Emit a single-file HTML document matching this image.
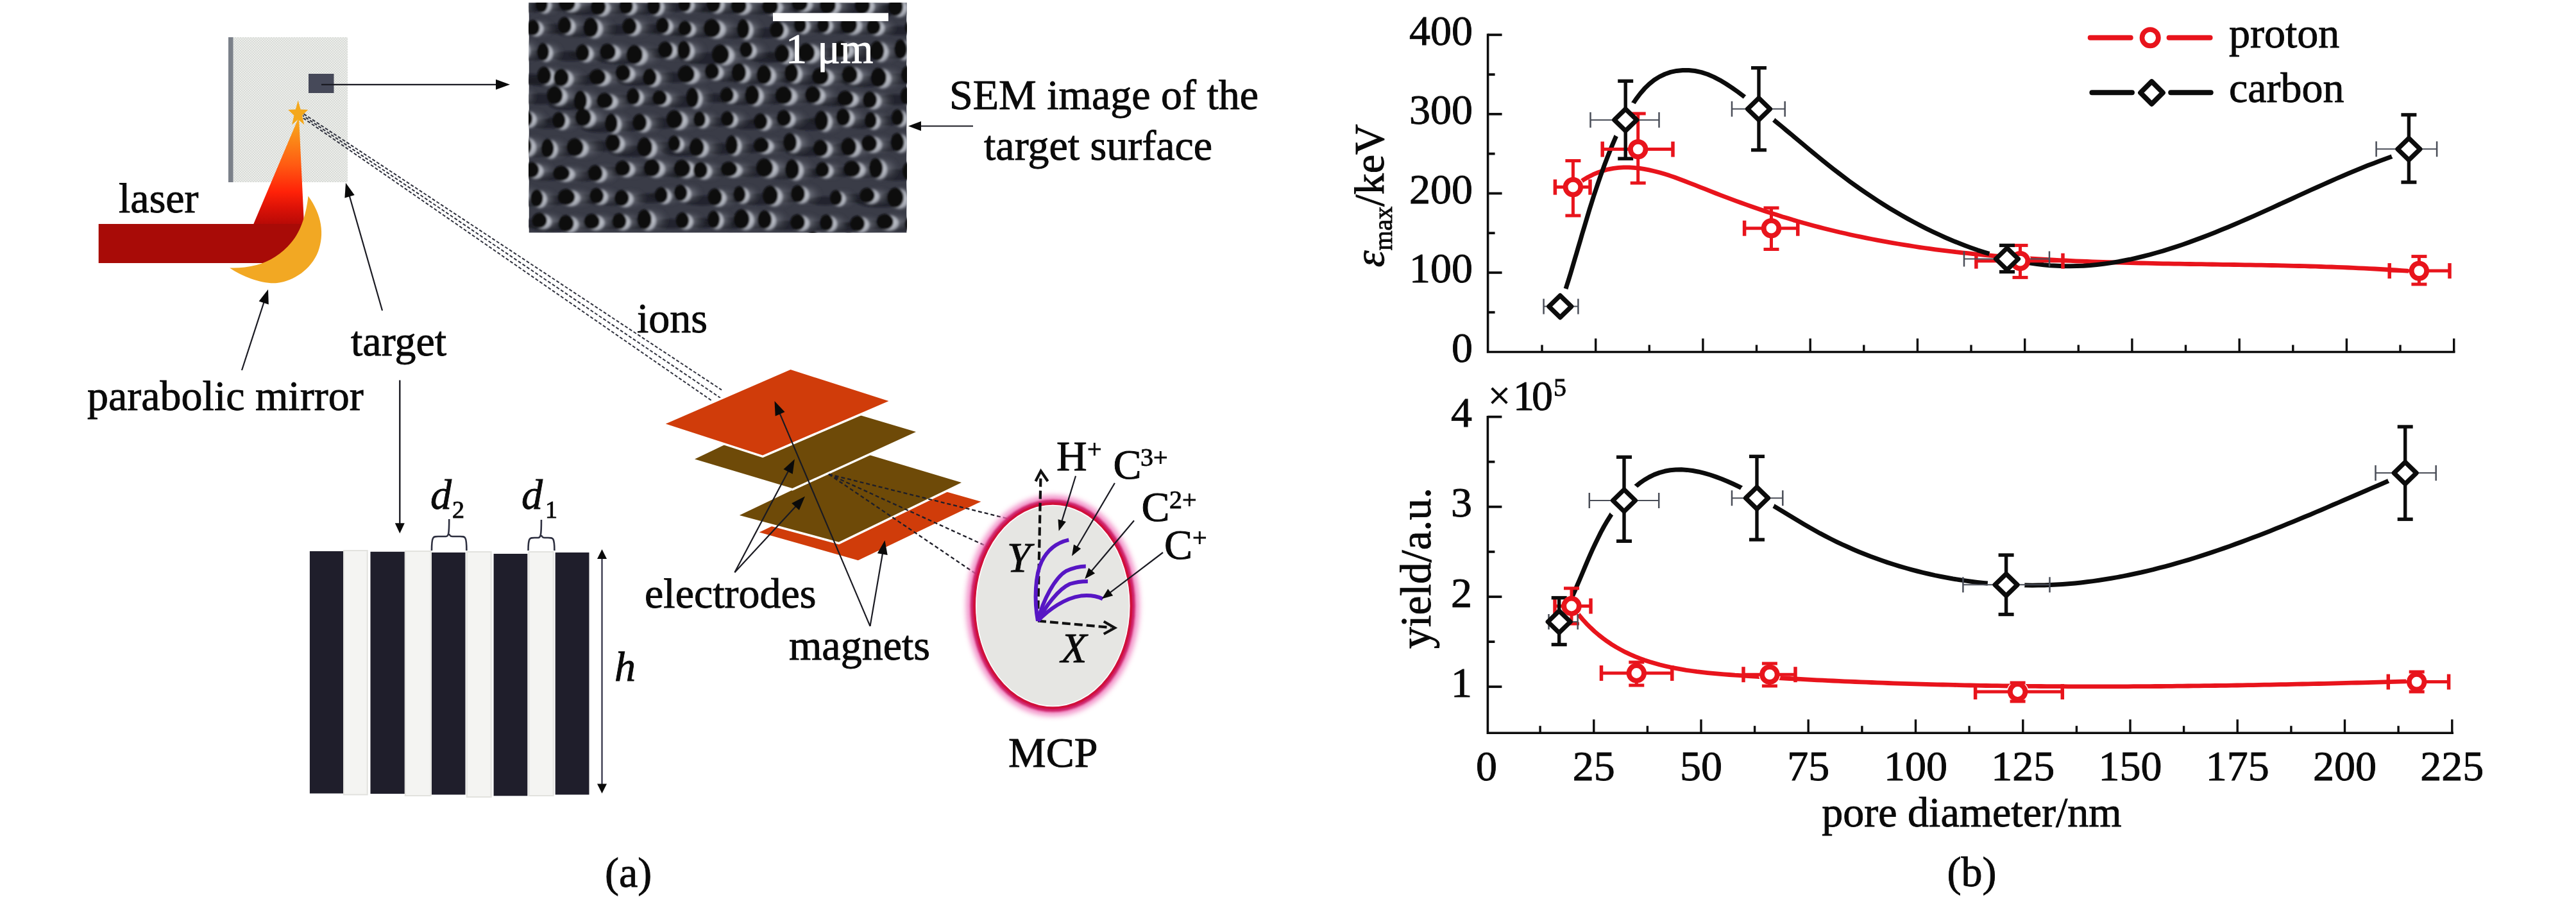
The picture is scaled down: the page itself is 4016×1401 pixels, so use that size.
<!DOCTYPE html>
<html><head><meta charset="utf-8"><style>
html,body{margin:0;padding:0;background:#fff;width:4016px;height:1401px;overflow:hidden}
svg{display:block}
text{font-family:"Liberation Serif",serif}
</style></head><body>
<svg width="4016" height="1401" viewBox="0 0 4016 1401">
<rect width="4016" height="1401" fill="#fff"/>
<defs>
<pattern id="chk" width="4" height="4" patternUnits="userSpaceOnUse"><rect width="4" height="4" fill="#ecedea"/><rect width="2" height="2" fill="#d9dcd8"/><rect x="2" y="2" width="2" height="2" fill="#d9dcd8"/></pattern>
<linearGradient id="cone" x1="0" y1="1" x2="0" y2="0">
<stop offset="0" stop-color="#b80a06"/><stop offset="0.15" stop-color="#dc1207"/><stop offset="0.3" stop-color="#ff2208"/><stop offset="0.55" stop-color="#ff5a12"/><stop offset="0.8" stop-color="#fb8a18"/><stop offset="1" stop-color="#f5b020"/></linearGradient>
<radialGradient id="hl" cx="0.5" cy="0.5" r="0.5"><stop offset="0" stop-color="#e8ebf0" stop-opacity="1"/><stop offset="0.72" stop-color="#b8bcc6" stop-opacity="0.75"/><stop offset="1" stop-color="#3e404b" stop-opacity="0"/></radialGradient>
<radialGradient id="hl2" cx="0.5" cy="0.5" r="0.5"><stop offset="0" stop-color="#9ea2ac" stop-opacity="0.7"/><stop offset="1" stop-color="#3e404b" stop-opacity="0"/></radialGradient>
<filter id="blur6" x="-20%" y="-20%" width="140%" height="140%"><feGaussianBlur stdDeviation="4.5"/></filter>
<filter id="blur2" x="-20%" y="-20%" width="140%" height="140%"><feGaussianBlur stdDeviation="1.6"/></filter>
<clipPath id="semclip"><rect x="824.5" y="4.2" width="589" height="358.5"/></clipPath>
</defs>
<rect x="356" y="58" width="186" height="226" fill="url(#chk)"/>
<rect x="356" y="58" width="7.5" height="226" fill="#7b8089"/>
<rect x="481" y="115" width="39.5" height="30" fill="#464959"/>
<line x1="501" y1="131.8" x2="775.0" y2="131.8" stroke="#1a1a22" stroke-width="2.2"/>
<polygon points="795.0,131.8 773.0,139.8 773.0,123.8" fill="#0a0a0a"/>
<g clip-path="url(#semclip)">
<rect x="824.5" y="4.2" width="589" height="358.5" fill="#3a3c47"/>
<g filter="url(#blur2)">
<ellipse cx="785.3" cy="13.0" rx="29.4" ry="8.2" fill="#16171e" opacity="0.6"/>
<ellipse cx="827.3" cy="11.4" rx="28.9" ry="7.9" fill="#16171e" opacity="0.6"/>
<ellipse cx="861.1" cy="10.0" rx="38.4" ry="7.2" fill="#16171e" opacity="0.6"/>
<ellipse cx="911.5" cy="15.7" rx="35.4" ry="7.9" fill="#16171e" opacity="0.6"/>
<ellipse cx="957.1" cy="14.4" rx="32.0" ry="7.2" fill="#16171e" opacity="0.6"/>
<ellipse cx="1001.2" cy="14.7" rx="30.7" ry="8.3" fill="#16171e" opacity="0.6"/>
<ellipse cx="1049.9" cy="11.2" rx="29.3" ry="7.0" fill="#16171e" opacity="0.6"/>
<ellipse cx="1093.3" cy="10.8" rx="32.3" ry="8.3" fill="#16171e" opacity="0.6"/>
<ellipse cx="1129.5" cy="13.9" rx="36.9" ry="7.5" fill="#16171e" opacity="0.6"/>
<ellipse cx="1178.5" cy="14.8" rx="37.3" ry="7.6" fill="#16171e" opacity="0.6"/>
<ellipse cx="1224.4" cy="10.0" rx="37.6" ry="7.3" fill="#16171e" opacity="0.6"/>
<ellipse cx="1268.0" cy="13.2" rx="37.7" ry="8.3" fill="#16171e" opacity="0.6"/>
<ellipse cx="1323.4" cy="13.5" rx="35.6" ry="8.3" fill="#16171e" opacity="0.6"/>
<ellipse cx="1376.0" cy="16.1" rx="34.2" ry="8.5" fill="#16171e" opacity="0.6"/>
<ellipse cx="1409.2" cy="13.4" rx="40.4" ry="8.9" fill="#16171e" opacity="0.6"/>
<ellipse cx="813.1" cy="47.7" rx="30.5" ry="7.2" fill="#16171e" opacity="0.6"/>
<ellipse cx="861.7" cy="44.8" rx="31.5" ry="7.8" fill="#16171e" opacity="0.6"/>
<ellipse cx="900.1" cy="48.8" rx="35.1" ry="9.0" fill="#16171e" opacity="0.6"/>
<ellipse cx="961.5" cy="46.3" rx="33.5" ry="7.8" fill="#16171e" opacity="0.6"/>
<ellipse cx="1015.0" cy="44.8" rx="30.6" ry="7.5" fill="#16171e" opacity="0.6"/>
<ellipse cx="1049.0" cy="48.8" rx="31.7" ry="6.9" fill="#16171e" opacity="0.6"/>
<ellipse cx="1086.3" cy="49.7" rx="39.9" ry="8.6" fill="#16171e" opacity="0.6"/>
<ellipse cx="1141.4" cy="51.1" rx="29.1" ry="9.1" fill="#16171e" opacity="0.6"/>
<ellipse cx="1191.5" cy="51.5" rx="33.2" ry="7.9" fill="#16171e" opacity="0.6"/>
<ellipse cx="1229.9" cy="43.9" rx="29.3" ry="7.4" fill="#16171e" opacity="0.6"/>
<ellipse cx="1266.6" cy="43.7" rx="28.5" ry="7.3" fill="#16171e" opacity="0.6"/>
<ellipse cx="1300.0" cy="44.2" rx="39.0" ry="8.4" fill="#16171e" opacity="0.6"/>
<ellipse cx="1342.2" cy="46.6" rx="32.9" ry="7.2" fill="#16171e" opacity="0.6"/>
<ellipse cx="1401.6" cy="47.7" rx="34.3" ry="7.1" fill="#16171e" opacity="0.6"/>
<ellipse cx="793.7" cy="83.1" rx="28.8" ry="9.2" fill="#16171e" opacity="0.6"/>
<ellipse cx="829.5" cy="86.2" rx="28.8" ry="8.2" fill="#16171e" opacity="0.6"/>
<ellipse cx="889.6" cy="87.5" rx="31.6" ry="7.8" fill="#16171e" opacity="0.6"/>
<ellipse cx="924.9" cy="85.8" rx="37.8" ry="7.7" fill="#16171e" opacity="0.6"/>
<ellipse cx="966.0" cy="91.1" rx="38.7" ry="8.8" fill="#16171e" opacity="0.6"/>
<ellipse cx="1016.9" cy="82.8" rx="34.7" ry="7.8" fill="#16171e" opacity="0.6"/>
<ellipse cx="1047.2" cy="83.9" rx="31.6" ry="8.6" fill="#16171e" opacity="0.6"/>
<ellipse cx="1099.2" cy="90.9" rx="40.4" ry="9.2" fill="#16171e" opacity="0.6"/>
<ellipse cx="1144.8" cy="82.6" rx="30.9" ry="7.4" fill="#16171e" opacity="0.6"/>
<ellipse cx="1199.1" cy="89.4" rx="34.3" ry="8.5" fill="#16171e" opacity="0.6"/>
<ellipse cx="1233.7" cy="87.8" rx="39.4" ry="8.8" fill="#16171e" opacity="0.6"/>
<ellipse cx="1288.6" cy="82.3" rx="38.0" ry="7.7" fill="#16171e" opacity="0.6"/>
<ellipse cx="1347.5" cy="85.4" rx="33.3" ry="9.2" fill="#16171e" opacity="0.6"/>
<ellipse cx="1386.3" cy="82.7" rx="30.3" ry="9.1" fill="#16171e" opacity="0.6"/>
<ellipse cx="828.9" cy="123.3" rx="32.7" ry="8.2" fill="#16171e" opacity="0.6"/>
<ellipse cx="853.1" cy="126.4" rx="36.3" ry="8.2" fill="#16171e" opacity="0.6"/>
<ellipse cx="908.8" cy="124.9" rx="38.4" ry="7.4" fill="#16171e" opacity="0.6"/>
<ellipse cx="950.0" cy="118.7" rx="35.5" ry="7.5" fill="#16171e" opacity="0.6"/>
<ellipse cx="993.3" cy="125.7" rx="32.7" ry="8.0" fill="#16171e" opacity="0.6"/>
<ellipse cx="1046.3" cy="120.9" rx="39.5" ry="8.1" fill="#16171e" opacity="0.6"/>
<ellipse cx="1089.8" cy="116.3" rx="33.8" ry="7.3" fill="#16171e" opacity="0.6"/>
<ellipse cx="1131.5" cy="118.7" rx="34.2" ry="8.6" fill="#16171e" opacity="0.6"/>
<ellipse cx="1170.1" cy="122.3" rx="35.2" ry="8.8" fill="#16171e" opacity="0.6"/>
<ellipse cx="1214.8" cy="119.6" rx="31.8" ry="8.8" fill="#16171e" opacity="0.6"/>
<ellipse cx="1255.4" cy="124.2" rx="39.4" ry="8.0" fill="#16171e" opacity="0.6"/>
<ellipse cx="1302.7" cy="121.7" rx="36.8" ry="8.0" fill="#16171e" opacity="0.6"/>
<ellipse cx="1347.8" cy="126.7" rx="36.9" ry="9.0" fill="#16171e" opacity="0.6"/>
<ellipse cx="1394.2" cy="122.8" rx="39.8" ry="8.9" fill="#16171e" opacity="0.6"/>
<ellipse cx="787.0" cy="155.1" rx="29.4" ry="8.5" fill="#16171e" opacity="0.6"/>
<ellipse cx="842.9" cy="154.2" rx="37.1" ry="8.5" fill="#16171e" opacity="0.6"/>
<ellipse cx="886.3" cy="162.8" rx="31.1" ry="9.2" fill="#16171e" opacity="0.6"/>
<ellipse cx="919.9" cy="161.7" rx="38.5" ry="7.3" fill="#16171e" opacity="0.6"/>
<ellipse cx="968.9" cy="155.5" rx="30.8" ry="7.7" fill="#16171e" opacity="0.6"/>
<ellipse cx="1008.3" cy="157.1" rx="33.8" ry="6.9" fill="#16171e" opacity="0.6"/>
<ellipse cx="1062.1" cy="158.3" rx="29.3" ry="9.3" fill="#16171e" opacity="0.6"/>
<ellipse cx="1114.6" cy="152.7" rx="31.7" ry="7.0" fill="#16171e" opacity="0.6"/>
<ellipse cx="1152.5" cy="154.3" rx="33.6" ry="9.1" fill="#16171e" opacity="0.6"/>
<ellipse cx="1198.3" cy="154.0" rx="39.5" ry="8.3" fill="#16171e" opacity="0.6"/>
<ellipse cx="1245.4" cy="152.8" rx="36.8" ry="7.9" fill="#16171e" opacity="0.6"/>
<ellipse cx="1295.4" cy="158.1" rx="38.1" ry="7.1" fill="#16171e" opacity="0.6"/>
<ellipse cx="1335.7" cy="160.7" rx="33.9" ry="7.7" fill="#16171e" opacity="0.6"/>
<ellipse cx="1395.9" cy="155.1" rx="30.1" ry="8.2" fill="#16171e" opacity="0.6"/>
<ellipse cx="800.2" cy="189.7" rx="32.2" ry="7.6" fill="#16171e" opacity="0.6"/>
<ellipse cx="853.2" cy="192.8" rx="30.6" ry="7.7" fill="#16171e" opacity="0.6"/>
<ellipse cx="886.9" cy="188.3" rx="37.3" ry="8.2" fill="#16171e" opacity="0.6"/>
<ellipse cx="935.2" cy="197.9" rx="29.8" ry="8.9" fill="#16171e" opacity="0.6"/>
<ellipse cx="977.5" cy="196.4" rx="33.2" ry="8.1" fill="#16171e" opacity="0.6"/>
<ellipse cx="1028.8" cy="191.8" rx="38.5" ry="8.6" fill="#16171e" opacity="0.6"/>
<ellipse cx="1073.2" cy="190.9" rx="29.2" ry="7.2" fill="#16171e" opacity="0.6"/>
<ellipse cx="1116.1" cy="189.9" rx="30.5" ry="7.1" fill="#16171e" opacity="0.6"/>
<ellipse cx="1166.8" cy="194.3" rx="31.9" ry="7.5" fill="#16171e" opacity="0.6"/>
<ellipse cx="1202.0" cy="189.2" rx="33.8" ry="7.5" fill="#16171e" opacity="0.6"/>
<ellipse cx="1262.1" cy="194.2" rx="31.4" ry="9.2" fill="#16171e" opacity="0.6"/>
<ellipse cx="1294.8" cy="188.0" rx="33.1" ry="8.0" fill="#16171e" opacity="0.6"/>
<ellipse cx="1340.4" cy="192.7" rx="28.6" ry="7.5" fill="#16171e" opacity="0.6"/>
<ellipse cx="1382.3" cy="188.1" rx="28.8" ry="7.6" fill="#16171e" opacity="0.6"/>
<ellipse cx="794.0" cy="233.7" rx="37.1" ry="9.0" fill="#16171e" opacity="0.6"/>
<ellipse cx="835.5" cy="236.8" rx="30.3" ry="8.6" fill="#16171e" opacity="0.6"/>
<ellipse cx="873.2" cy="235.1" rx="39.2" ry="8.4" fill="#16171e" opacity="0.6"/>
<ellipse cx="934.9" cy="227.9" rx="34.8" ry="8.1" fill="#16171e" opacity="0.6"/>
<ellipse cx="984.1" cy="235.4" rx="35.5" ry="9.0" fill="#16171e" opacity="0.6"/>
<ellipse cx="1034.1" cy="228.3" rx="28.9" ry="7.2" fill="#16171e" opacity="0.6"/>
<ellipse cx="1065.1" cy="235.1" rx="35.2" ry="8.4" fill="#16171e" opacity="0.6"/>
<ellipse cx="1123.9" cy="231.9" rx="28.5" ry="8.8" fill="#16171e" opacity="0.6"/>
<ellipse cx="1165.2" cy="231.2" rx="36.4" ry="7.1" fill="#16171e" opacity="0.6"/>
<ellipse cx="1212.8" cy="227.7" rx="31.7" ry="8.7" fill="#16171e" opacity="0.6"/>
<ellipse cx="1258.9" cy="236.1" rx="34.4" ry="7.8" fill="#16171e" opacity="0.6"/>
<ellipse cx="1301.9" cy="234.4" rx="35.9" ry="8.4" fill="#16171e" opacity="0.6"/>
<ellipse cx="1332.6" cy="228.8" rx="37.4" ry="7.6" fill="#16171e" opacity="0.6"/>
<ellipse cx="1380.0" cy="227.4" rx="31.7" ry="8.5" fill="#16171e" opacity="0.6"/>
<ellipse cx="808.8" cy="269.6" rx="34.1" ry="7.2" fill="#16171e" opacity="0.6"/>
<ellipse cx="851.4" cy="274.6" rx="39.7" ry="6.9" fill="#16171e" opacity="0.6"/>
<ellipse cx="908.1" cy="274.9" rx="33.9" ry="7.5" fill="#16171e" opacity="0.6"/>
<ellipse cx="949.8" cy="267.1" rx="35.5" ry="7.2" fill="#16171e" opacity="0.6"/>
<ellipse cx="993.5" cy="266.9" rx="38.3" ry="8.1" fill="#16171e" opacity="0.6"/>
<ellipse cx="1039.9" cy="267.9" rx="39.3" ry="8.1" fill="#16171e" opacity="0.6"/>
<ellipse cx="1071.7" cy="270.2" rx="33.9" ry="7.6" fill="#16171e" opacity="0.6"/>
<ellipse cx="1113.6" cy="268.0" rx="38.6" ry="6.9" fill="#16171e" opacity="0.6"/>
<ellipse cx="1168.4" cy="267.1" rx="39.6" ry="8.6" fill="#16171e" opacity="0.6"/>
<ellipse cx="1215.2" cy="270.1" rx="33.2" ry="9.3" fill="#16171e" opacity="0.6"/>
<ellipse cx="1263.3" cy="269.2" rx="31.8" ry="7.0" fill="#16171e" opacity="0.6"/>
<ellipse cx="1304.6" cy="268.1" rx="39.7" ry="7.5" fill="#16171e" opacity="0.6"/>
<ellipse cx="1345.8" cy="268.2" rx="33.0" ry="9.2" fill="#16171e" opacity="0.6"/>
<ellipse cx="1396.5" cy="272.6" rx="39.5" ry="9.2" fill="#16171e" opacity="0.6"/>
<ellipse cx="781.9" cy="309.7" rx="37.5" ry="8.4" fill="#16171e" opacity="0.6"/>
<ellipse cx="818.9" cy="314.1" rx="30.0" ry="8.0" fill="#16171e" opacity="0.6"/>
<ellipse cx="859.0" cy="311.9" rx="40.2" ry="7.5" fill="#16171e" opacity="0.6"/>
<ellipse cx="910.5" cy="310.0" rx="33.2" ry="7.3" fill="#16171e" opacity="0.6"/>
<ellipse cx="948.7" cy="313.5" rx="34.5" ry="7.4" fill="#16171e" opacity="0.6"/>
<ellipse cx="1013.0" cy="308.9" rx="30.2" ry="7.4" fill="#16171e" opacity="0.6"/>
<ellipse cx="1042.4" cy="305.4" rx="31.4" ry="7.5" fill="#16171e" opacity="0.6"/>
<ellipse cx="1094.7" cy="312.3" rx="33.5" ry="7.9" fill="#16171e" opacity="0.6"/>
<ellipse cx="1135.5" cy="307.9" rx="29.2" ry="7.6" fill="#16171e" opacity="0.6"/>
<ellipse cx="1179.4" cy="310.5" rx="36.1" ry="9.0" fill="#16171e" opacity="0.6"/>
<ellipse cx="1224.1" cy="307.3" rx="33.3" ry="8.0" fill="#16171e" opacity="0.6"/>
<ellipse cx="1286.3" cy="312.9" rx="28.8" ry="7.0" fill="#16171e" opacity="0.6"/>
<ellipse cx="1330.8" cy="308.9" rx="35.5" ry="6.9" fill="#16171e" opacity="0.6"/>
<ellipse cx="1372.8" cy="313.9" rx="38.8" ry="9.2" fill="#16171e" opacity="0.6"/>
<ellipse cx="1405.2" cy="306.8" rx="34.8" ry="8.5" fill="#16171e" opacity="0.6"/>
<ellipse cx="820.2" cy="348.1" rx="35.1" ry="7.0" fill="#16171e" opacity="0.6"/>
<ellipse cx="861.0" cy="353.1" rx="36.2" ry="7.6" fill="#16171e" opacity="0.6"/>
<ellipse cx="900.7" cy="350.0" rx="36.9" ry="7.2" fill="#16171e" opacity="0.6"/>
<ellipse cx="945.7" cy="349.6" rx="33.2" ry="7.4" fill="#16171e" opacity="0.6"/>
<ellipse cx="984.4" cy="348.0" rx="34.0" ry="9.2" fill="#16171e" opacity="0.6"/>
<ellipse cx="1045.3" cy="348.6" rx="31.3" ry="7.5" fill="#16171e" opacity="0.6"/>
<ellipse cx="1095.8" cy="347.3" rx="28.8" ry="8.1" fill="#16171e" opacity="0.6"/>
<ellipse cx="1134.6" cy="347.5" rx="36.5" ry="9.1" fill="#16171e" opacity="0.6"/>
<ellipse cx="1172.1" cy="347.9" rx="33.5" ry="8.5" fill="#16171e" opacity="0.6"/>
<ellipse cx="1223.0" cy="351.2" rx="34.6" ry="7.4" fill="#16171e" opacity="0.6"/>
<ellipse cx="1269.7" cy="352.0" rx="31.3" ry="7.4" fill="#16171e" opacity="0.6"/>
<ellipse cx="1316.2" cy="353.3" rx="34.4" ry="7.3" fill="#16171e" opacity="0.6"/>
<ellipse cx="1355.8" cy="350.3" rx="39.9" ry="7.3" fill="#16171e" opacity="0.6"/>
<ellipse cx="1402.3" cy="353.3" rx="30.2" ry="7.0" fill="#16171e" opacity="0.6"/>
<ellipse cx="802.6" cy="389.6" rx="40.5" ry="9.1" fill="#16171e" opacity="0.6"/>
<ellipse cx="837.3" cy="390.2" rx="37.5" ry="7.0" fill="#16171e" opacity="0.6"/>
<ellipse cx="890.3" cy="384.8" rx="32.5" ry="7.3" fill="#16171e" opacity="0.6"/>
<ellipse cx="922.4" cy="384.5" rx="40.0" ry="7.2" fill="#16171e" opacity="0.6"/>
<ellipse cx="973.9" cy="385.7" rx="38.4" ry="8.9" fill="#16171e" opacity="0.6"/>
<ellipse cx="1019.0" cy="387.0" rx="33.0" ry="9.1" fill="#16171e" opacity="0.6"/>
<ellipse cx="1066.5" cy="390.4" rx="28.9" ry="7.9" fill="#16171e" opacity="0.6"/>
<ellipse cx="1121.5" cy="381.3" rx="28.9" ry="7.1" fill="#16171e" opacity="0.6"/>
<ellipse cx="1159.0" cy="388.8" rx="39.3" ry="7.7" fill="#16171e" opacity="0.6"/>
<ellipse cx="1215.2" cy="388.1" rx="31.6" ry="8.6" fill="#16171e" opacity="0.6"/>
<ellipse cx="1244.6" cy="382.3" rx="37.6" ry="9.1" fill="#16171e" opacity="0.6"/>
<ellipse cx="1304.6" cy="381.8" rx="31.3" ry="8.0" fill="#16171e" opacity="0.6"/>
<ellipse cx="1356.0" cy="385.4" rx="31.5" ry="7.9" fill="#16171e" opacity="0.6"/>
<ellipse cx="1396.5" cy="383.8" rx="38.1" ry="8.7" fill="#16171e" opacity="0.6"/>
<ellipse cx="815.6" cy="8.5" rx="21.5" ry="19.1" fill="url(#hl2)"/>
<ellipse cx="857.2" cy="7.1" rx="21.2" ry="18.5" fill="url(#hl2)"/>
<ellipse cx="900.8" cy="6.2" rx="28.2" ry="16.8" fill="url(#hl2)"/>
<ellipse cx="948.1" cy="11.5" rx="26.0" ry="18.3" fill="url(#hl2)"/>
<ellipse cx="990.2" cy="10.6" rx="23.4" ry="16.9" fill="url(#hl2)"/>
<ellipse cx="1032.9" cy="10.2" rx="22.5" ry="19.4" fill="url(#hl2)"/>
<ellipse cx="1080.1" cy="7.5" rx="21.5" ry="16.4" fill="url(#hl2)"/>
<ellipse cx="1126.6" cy="6.3" rx="23.7" ry="19.4" fill="url(#hl2)"/>
<ellipse cx="1167.7" cy="9.9" rx="27.1" ry="17.5" fill="url(#hl2)"/>
<ellipse cx="1217.0" cy="10.8" rx="27.3" ry="17.7" fill="url(#hl2)"/>
<ellipse cx="1263.2" cy="6.2" rx="27.6" ry="17.0" fill="url(#hl2)"/>
<ellipse cx="1307.0" cy="8.7" rx="27.6" ry="19.3" fill="url(#hl2)"/>
<ellipse cx="1360.2" cy="9.0" rx="26.1" ry="19.3" fill="url(#hl2)"/>
<ellipse cx="1411.3" cy="11.4" rx="25.1" ry="19.8" fill="url(#hl2)"/>
<ellipse cx="1450.9" cy="8.5" rx="29.6" ry="20.7" fill="url(#hl2)"/>
<ellipse cx="844.6" cy="43.9" rx="22.4" ry="16.8" fill="url(#hl2)"/>
<ellipse cx="894.3" cy="40.6" rx="23.1" ry="18.3" fill="url(#hl2)"/>
<ellipse cx="936.4" cy="43.8" rx="25.7" ry="21.0" fill="url(#hl2)"/>
<ellipse cx="996.1" cy="42.1" rx="24.6" ry="18.1" fill="url(#hl2)"/>
<ellipse cx="1046.6" cy="40.8" rx="22.5" ry="17.4" fill="url(#hl2)"/>
<ellipse cx="1081.7" cy="45.2" rx="23.2" ry="16.1" fill="url(#hl2)"/>
<ellipse cx="1127.5" cy="45.0" rx="29.3" ry="20.0" fill="url(#hl2)"/>
<ellipse cx="1171.5" cy="46.1" rx="21.4" ry="21.1" fill="url(#hl2)"/>
<ellipse cx="1225.8" cy="47.3" rx="24.4" ry="18.3" fill="url(#hl2)"/>
<ellipse cx="1260.2" cy="39.9" rx="21.5" ry="17.3" fill="url(#hl2)"/>
<ellipse cx="1296.0" cy="39.8" rx="20.9" ry="16.9" fill="url(#hl2)"/>
<ellipse cx="1340.3" cy="39.6" rx="28.6" ry="19.5" fill="url(#hl2)"/>
<ellipse cx="1376.2" cy="42.8" rx="24.1" ry="16.8" fill="url(#hl2)"/>
<ellipse cx="1437.1" cy="44.0" rx="25.2" ry="16.6" fill="url(#hl2)"/>
<ellipse cx="823.4" cy="78.0" rx="21.1" ry="21.4" fill="url(#hl2)"/>
<ellipse cx="859.3" cy="81.8" rx="21.1" ry="19.1" fill="url(#hl2)"/>
<ellipse cx="922.2" cy="83.3" rx="23.2" ry="18.2" fill="url(#hl2)"/>
<ellipse cx="964.0" cy="81.7" rx="27.8" ry="17.9" fill="url(#hl2)"/>
<ellipse cx="1006.1" cy="86.2" rx="28.4" ry="20.6" fill="url(#hl2)"/>
<ellipse cx="1052.8" cy="78.6" rx="25.5" ry="18.1" fill="url(#hl2)"/>
<ellipse cx="1079.9" cy="79.2" rx="23.2" ry="20.0" fill="url(#hl2)"/>
<ellipse cx="1140.9" cy="85.7" rx="29.6" ry="21.4" fill="url(#hl2)"/>
<ellipse cx="1176.7" cy="78.6" rx="22.6" ry="17.2" fill="url(#hl2)"/>
<ellipse cx="1234.5" cy="84.8" rx="25.1" ry="19.8" fill="url(#hl2)"/>
<ellipse cx="1274.5" cy="83.0" rx="28.9" ry="20.5" fill="url(#hl2)"/>
<ellipse cx="1327.8" cy="78.2" rx="27.8" ry="18.0" fill="url(#hl2)"/>
<ellipse cx="1382.0" cy="80.3" rx="24.4" ry="21.4" fill="url(#hl2)"/>
<ellipse cx="1417.6" cy="77.6" rx="22.2" ry="21.2" fill="url(#hl2)"/>
<ellipse cx="862.7" cy="118.8" rx="24.0" ry="19.2" fill="url(#hl2)"/>
<ellipse cx="890.6" cy="122.0" rx="26.6" ry="19.0" fill="url(#hl2)"/>
<ellipse cx="948.5" cy="121.0" rx="28.2" ry="17.3" fill="url(#hl2)"/>
<ellipse cx="986.8" cy="114.7" rx="26.1" ry="17.6" fill="url(#hl2)"/>
<ellipse cx="1027.2" cy="121.3" rx="24.0" ry="18.7" fill="url(#hl2)"/>
<ellipse cx="1087.1" cy="116.5" rx="29.0" ry="18.9" fill="url(#hl2)"/>
<ellipse cx="1124.7" cy="112.4" rx="24.8" ry="17.1" fill="url(#hl2)"/>
<ellipse cx="1166.8" cy="114.0" rx="25.1" ry="20.2" fill="url(#hl2)"/>
<ellipse cx="1206.4" cy="117.4" rx="25.8" ry="20.5" fill="url(#hl2)"/>
<ellipse cx="1247.7" cy="114.7" rx="23.3" ry="20.4" fill="url(#hl2)"/>
<ellipse cx="1296.1" cy="119.8" rx="28.9" ry="18.6" fill="url(#hl2)"/>
<ellipse cx="1340.8" cy="117.4" rx="27.0" ry="18.6" fill="url(#hl2)"/>
<ellipse cx="1385.9" cy="121.7" rx="27.1" ry="21.0" fill="url(#hl2)"/>
<ellipse cx="1435.3" cy="117.8" rx="29.2" ry="20.8" fill="url(#hl2)"/>
<ellipse cx="817.4" cy="150.4" rx="21.5" ry="19.8" fill="url(#hl2)"/>
<ellipse cx="881.2" cy="149.5" rx="27.2" ry="19.8" fill="url(#hl2)"/>
<ellipse cx="918.4" cy="157.7" rx="22.8" ry="21.4" fill="url(#hl2)"/>
<ellipse cx="959.7" cy="157.9" rx="28.2" ry="17.0" fill="url(#hl2)"/>
<ellipse cx="1000.8" cy="151.4" rx="22.6" ry="17.9" fill="url(#hl2)"/>
<ellipse cx="1043.2" cy="153.5" rx="24.8" ry="16.2" fill="url(#hl2)"/>
<ellipse cx="1092.4" cy="153.1" rx="21.5" ry="21.6" fill="url(#hl2)"/>
<ellipse cx="1147.3" cy="149.0" rx="23.2" ry="16.3" fill="url(#hl2)"/>
<ellipse cx="1187.2" cy="149.3" rx="24.6" ry="21.2" fill="url(#hl2)"/>
<ellipse cx="1239.1" cy="149.5" rx="29.0" ry="19.3" fill="url(#hl2)"/>
<ellipse cx="1283.4" cy="148.6" rx="27.0" ry="18.5" fill="url(#hl2)"/>
<ellipse cx="1334.8" cy="154.3" rx="28.0" ry="16.6" fill="url(#hl2)"/>
<ellipse cx="1370.8" cy="156.6" rx="24.9" ry="18.0" fill="url(#hl2)"/>
<ellipse cx="1426.9" cy="150.7" rx="22.0" ry="19.1" fill="url(#hl2)"/>
<ellipse cx="833.6" cy="185.7" rx="23.6" ry="17.8" fill="url(#hl2)"/>
<ellipse cx="884.8" cy="188.6" rx="22.5" ry="18.0" fill="url(#hl2)"/>
<ellipse cx="925.4" cy="183.8" rx="27.4" ry="19.2" fill="url(#hl2)"/>
<ellipse cx="966.0" cy="193.0" rx="21.8" ry="20.7" fill="url(#hl2)"/>
<ellipse cx="1011.8" cy="192.0" rx="24.4" ry="18.9" fill="url(#hl2)"/>
<ellipse cx="1068.5" cy="187.1" rx="28.2" ry="20.1" fill="url(#hl2)"/>
<ellipse cx="1103.3" cy="187.1" rx="21.4" ry="16.8" fill="url(#hl2)"/>
<ellipse cx="1147.6" cy="186.2" rx="22.3" ry="16.6" fill="url(#hl2)"/>
<ellipse cx="1199.8" cy="190.3" rx="23.4" ry="17.5" fill="url(#hl2)"/>
<ellipse cx="1237.0" cy="185.2" rx="24.8" ry="17.6" fill="url(#hl2)"/>
<ellipse cx="1294.6" cy="189.1" rx="23.1" ry="21.5" fill="url(#hl2)"/>
<ellipse cx="1329.0" cy="183.6" rx="24.3" ry="18.8" fill="url(#hl2)"/>
<ellipse cx="1369.9" cy="188.7" rx="20.9" ry="17.6" fill="url(#hl2)"/>
<ellipse cx="1412.0" cy="184.1" rx="21.1" ry="17.8" fill="url(#hl2)"/>
<ellipse cx="832.3" cy="228.7" rx="27.2" ry="21.0" fill="url(#hl2)"/>
<ellipse cx="866.8" cy="232.0" rx="22.2" ry="20.2" fill="url(#hl2)"/>
<ellipse cx="913.8" cy="230.5" rx="28.7" ry="19.6" fill="url(#hl2)"/>
<ellipse cx="970.9" cy="223.5" rx="25.5" ry="18.9" fill="url(#hl2)"/>
<ellipse cx="1020.8" cy="230.4" rx="26.0" ry="21.1" fill="url(#hl2)"/>
<ellipse cx="1063.9" cy="224.4" rx="21.2" ry="16.8" fill="url(#hl2)"/>
<ellipse cx="1101.5" cy="230.5" rx="25.8" ry="19.6" fill="url(#hl2)"/>
<ellipse cx="1153.4" cy="227.0" rx="20.9" ry="20.6" fill="url(#hl2)"/>
<ellipse cx="1202.8" cy="227.5" rx="26.7" ry="16.5" fill="url(#hl2)"/>
<ellipse cx="1245.6" cy="222.9" rx="23.2" ry="20.2" fill="url(#hl2)"/>
<ellipse cx="1294.4" cy="231.9" rx="25.2" ry="18.2" fill="url(#hl2)"/>
<ellipse cx="1339.0" cy="229.8" rx="26.3" ry="19.7" fill="url(#hl2)"/>
<ellipse cx="1371.2" cy="224.7" rx="27.4" ry="17.8" fill="url(#hl2)"/>
<ellipse cx="1412.8" cy="222.8" rx="23.3" ry="19.9" fill="url(#hl2)"/>
<ellipse cx="844.0" cy="265.8" rx="25.0" ry="16.8" fill="url(#hl2)"/>
<ellipse cx="892.5" cy="271.0" rx="29.1" ry="16.2" fill="url(#hl2)"/>
<ellipse cx="943.1" cy="270.9" rx="24.9" ry="17.6" fill="url(#hl2)"/>
<ellipse cx="986.5" cy="263.3" rx="26.0" ry="16.9" fill="url(#hl2)"/>
<ellipse cx="1033.1" cy="262.5" rx="28.1" ry="18.9" fill="url(#hl2)"/>
<ellipse cx="1080.5" cy="263.5" rx="28.8" ry="18.8" fill="url(#hl2)"/>
<ellipse cx="1106.7" cy="266.1" rx="24.9" ry="17.8" fill="url(#hl2)"/>
<ellipse cx="1153.5" cy="264.4" rx="28.3" ry="16.1" fill="url(#hl2)"/>
<ellipse cx="1209.4" cy="262.4" rx="29.1" ry="20.1" fill="url(#hl2)"/>
<ellipse cx="1249.5" cy="264.9" rx="24.4" ry="21.7" fill="url(#hl2)"/>
<ellipse cx="1296.1" cy="265.5" rx="23.3" ry="16.4" fill="url(#hl2)"/>
<ellipse cx="1345.6" cy="264.1" rx="29.1" ry="17.5" fill="url(#hl2)"/>
<ellipse cx="1379.9" cy="263.1" rx="24.2" ry="21.5" fill="url(#hl2)"/>
<ellipse cx="1437.3" cy="267.5" rx="28.9" ry="21.4" fill="url(#hl2)"/>
<ellipse cx="820.7" cy="305.0" rx="27.5" ry="19.7" fill="url(#hl2)"/>
<ellipse cx="849.9" cy="309.8" rx="22.0" ry="18.7" fill="url(#hl2)"/>
<ellipse cx="900.6" cy="307.9" rx="29.5" ry="17.6" fill="url(#hl2)"/>
<ellipse cx="944.8" cy="306.1" rx="24.4" ry="17.0" fill="url(#hl2)"/>
<ellipse cx="984.3" cy="309.6" rx="25.3" ry="17.3" fill="url(#hl2)"/>
<ellipse cx="1044.2" cy="305.0" rx="22.1" ry="17.2" fill="url(#hl2)"/>
<ellipse cx="1074.8" cy="301.4" rx="23.0" ry="17.5" fill="url(#hl2)"/>
<ellipse cx="1129.3" cy="308.0" rx="24.5" ry="18.4" fill="url(#hl2)"/>
<ellipse cx="1165.7" cy="303.9" rx="21.4" ry="17.7" fill="url(#hl2)"/>
<ellipse cx="1216.7" cy="305.6" rx="26.4" ry="20.9" fill="url(#hl2)"/>
<ellipse cx="1258.5" cy="303.0" rx="24.4" ry="18.6" fill="url(#hl2)"/>
<ellipse cx="1316.0" cy="309.2" rx="21.1" ry="16.3" fill="url(#hl2)"/>
<ellipse cx="1367.5" cy="305.3" rx="26.1" ry="16.1" fill="url(#hl2)"/>
<ellipse cx="1412.8" cy="308.8" rx="28.4" ry="21.5" fill="url(#hl2)"/>
<ellipse cx="1441.1" cy="302.1" rx="25.5" ry="19.9" fill="url(#hl2)"/>
<ellipse cx="856.5" cy="344.4" rx="25.8" ry="16.3" fill="url(#hl2)"/>
<ellipse cx="898.5" cy="349.0" rx="26.6" ry="17.8" fill="url(#hl2)"/>
<ellipse cx="938.8" cy="346.2" rx="27.0" ry="16.7" fill="url(#hl2)"/>
<ellipse cx="980.0" cy="345.7" rx="24.3" ry="17.4" fill="url(#hl2)"/>
<ellipse cx="1019.6" cy="342.9" rx="25.0" ry="21.5" fill="url(#hl2)"/>
<ellipse cx="1077.6" cy="344.6" rx="23.0" ry="17.5" fill="url(#hl2)"/>
<ellipse cx="1125.5" cy="342.9" rx="21.1" ry="18.9" fill="url(#hl2)"/>
<ellipse cx="1172.3" cy="342.4" rx="26.8" ry="21.3" fill="url(#hl2)"/>
<ellipse cx="1206.8" cy="343.2" rx="24.6" ry="19.9" fill="url(#hl2)"/>
<ellipse cx="1258.7" cy="347.2" rx="25.3" ry="17.2" fill="url(#hl2)"/>
<ellipse cx="1302.0" cy="348.0" rx="22.9" ry="17.3" fill="url(#hl2)"/>
<ellipse cx="1351.8" cy="349.4" rx="25.3" ry="17.1" fill="url(#hl2)"/>
<ellipse cx="1397.0" cy="346.5" rx="29.2" ry="16.9" fill="url(#hl2)"/>
<ellipse cx="1433.5" cy="349.6" rx="22.1" ry="16.4" fill="url(#hl2)"/>
<ellipse cx="844.5" cy="384.5" rx="29.7" ry="21.3" fill="url(#hl2)"/>
<ellipse cx="876.0" cy="386.6" rx="27.5" ry="16.3" fill="url(#hl2)"/>
<ellipse cx="923.8" cy="380.9" rx="23.8" ry="17.0" fill="url(#hl2)"/>
<ellipse cx="963.7" cy="380.7" rx="29.3" ry="16.8" fill="url(#hl2)"/>
<ellipse cx="1013.5" cy="380.8" rx="28.1" ry="20.7" fill="url(#hl2)"/>
<ellipse cx="1053.0" cy="381.9" rx="24.2" ry="21.2" fill="url(#hl2)"/>
<ellipse cx="1096.4" cy="386.2" rx="21.2" ry="18.4" fill="url(#hl2)"/>
<ellipse cx="1151.4" cy="377.6" rx="21.2" ry="16.5" fill="url(#hl2)"/>
<ellipse cx="1199.6" cy="384.7" rx="28.8" ry="18.0" fill="url(#hl2)"/>
<ellipse cx="1247.9" cy="383.4" rx="23.2" ry="20.1" fill="url(#hl2)"/>
<ellipse cx="1283.4" cy="377.2" rx="27.5" ry="21.2" fill="url(#hl2)"/>
<ellipse cx="1336.9" cy="377.5" rx="23.0" ry="18.8" fill="url(#hl2)"/>
<ellipse cx="1388.5" cy="381.1" rx="23.1" ry="18.5" fill="url(#hl2)"/>
<ellipse cx="1435.9" cy="379.0" rx="28.0" ry="20.2" fill="url(#hl2)"/>
<ellipse cx="807.8" cy="9.5" rx="13.7" ry="17.1" fill="url(#hl)"/>
<ellipse cx="849.5" cy="8.1" rx="13.5" ry="16.5" fill="url(#hl)"/>
<ellipse cx="890.5" cy="7.2" rx="17.9" ry="15.0" fill="url(#hl)"/>
<ellipse cx="938.7" cy="12.5" rx="16.5" ry="16.4" fill="url(#hl)"/>
<ellipse cx="981.6" cy="11.6" rx="14.9" ry="15.1" fill="url(#hl)"/>
<ellipse cx="1024.7" cy="11.2" rx="14.3" ry="17.3" fill="url(#hl)"/>
<ellipse cx="1072.3" cy="8.5" rx="13.7" ry="14.7" fill="url(#hl)"/>
<ellipse cx="1118.0" cy="7.3" rx="15.1" ry="17.3" fill="url(#hl)"/>
<ellipse cx="1157.8" cy="10.9" rx="17.2" ry="15.6" fill="url(#hl)"/>
<ellipse cx="1207.1" cy="11.8" rx="17.4" ry="15.8" fill="url(#hl)"/>
<ellipse cx="1253.2" cy="7.2" rx="17.5" ry="15.1" fill="url(#hl)"/>
<ellipse cx="1296.9" cy="9.7" rx="17.6" ry="17.2" fill="url(#hl)"/>
<ellipse cx="1350.7" cy="10.0" rx="16.6" ry="17.3" fill="url(#hl)"/>
<ellipse cx="1402.2" cy="12.4" rx="16.0" ry="17.7" fill="url(#hl)"/>
<ellipse cx="1440.1" cy="9.5" rx="18.9" ry="18.5" fill="url(#hl)"/>
<ellipse cx="836.4" cy="44.9" rx="14.2" ry="15.0" fill="url(#hl)"/>
<ellipse cx="885.9" cy="41.6" rx="14.7" ry="16.3" fill="url(#hl)"/>
<ellipse cx="927.0" cy="44.8" rx="16.4" ry="18.8" fill="url(#hl)"/>
<ellipse cx="987.2" cy="43.1" rx="15.6" ry="16.2" fill="url(#hl)"/>
<ellipse cx="1038.4" cy="41.8" rx="14.3" ry="15.5" fill="url(#hl)"/>
<ellipse cx="1073.3" cy="46.2" rx="14.8" ry="14.4" fill="url(#hl)"/>
<ellipse cx="1116.9" cy="46.0" rx="18.6" ry="17.8" fill="url(#hl)"/>
<ellipse cx="1163.8" cy="47.1" rx="13.6" ry="18.9" fill="url(#hl)"/>
<ellipse cx="1217.0" cy="48.3" rx="15.5" ry="16.4" fill="url(#hl)"/>
<ellipse cx="1252.4" cy="40.9" rx="13.7" ry="15.4" fill="url(#hl)"/>
<ellipse cx="1288.4" cy="40.8" rx="13.3" ry="15.1" fill="url(#hl)"/>
<ellipse cx="1329.9" cy="40.6" rx="18.2" ry="17.4" fill="url(#hl)"/>
<ellipse cx="1367.4" cy="43.8" rx="15.3" ry="15.0" fill="url(#hl)"/>
<ellipse cx="1427.9" cy="45.0" rx="16.0" ry="14.8" fill="url(#hl)"/>
<ellipse cx="815.8" cy="79.0" rx="13.4" ry="19.1" fill="url(#hl)"/>
<ellipse cx="851.6" cy="82.8" rx="13.5" ry="17.0" fill="url(#hl)"/>
<ellipse cx="913.8" cy="84.3" rx="14.8" ry="16.2" fill="url(#hl)"/>
<ellipse cx="953.9" cy="82.7" rx="17.7" ry="16.0" fill="url(#hl)"/>
<ellipse cx="995.7" cy="87.2" rx="18.1" ry="18.4" fill="url(#hl)"/>
<ellipse cx="1043.5" cy="79.6" rx="16.2" ry="16.2" fill="url(#hl)"/>
<ellipse cx="1071.4" cy="80.2" rx="14.8" ry="17.8" fill="url(#hl)"/>
<ellipse cx="1130.2" cy="86.7" rx="18.8" ry="19.2" fill="url(#hl)"/>
<ellipse cx="1168.5" cy="79.6" rx="14.4" ry="15.4" fill="url(#hl)"/>
<ellipse cx="1225.3" cy="85.8" rx="16.0" ry="17.6" fill="url(#hl)"/>
<ellipse cx="1264.0" cy="84.0" rx="18.4" ry="18.3" fill="url(#hl)"/>
<ellipse cx="1317.7" cy="79.2" rx="17.7" ry="16.0" fill="url(#hl)"/>
<ellipse cx="1373.1" cy="81.3" rx="15.5" ry="19.1" fill="url(#hl)"/>
<ellipse cx="1409.5" cy="78.6" rx="14.1" ry="18.9" fill="url(#hl)"/>
<ellipse cx="854.0" cy="119.8" rx="15.3" ry="17.1" fill="url(#hl)"/>
<ellipse cx="880.9" cy="123.0" rx="16.9" ry="17.0" fill="url(#hl)"/>
<ellipse cx="938.2" cy="122.0" rx="17.9" ry="15.4" fill="url(#hl)"/>
<ellipse cx="977.3" cy="115.7" rx="16.6" ry="15.7" fill="url(#hl)"/>
<ellipse cx="1018.4" cy="122.3" rx="15.3" ry="16.7" fill="url(#hl)"/>
<ellipse cx="1076.5" cy="117.5" rx="18.4" ry="16.9" fill="url(#hl)"/>
<ellipse cx="1115.7" cy="113.4" rx="15.8" ry="15.3" fill="url(#hl)"/>
<ellipse cx="1157.7" cy="115.0" rx="16.0" ry="18.0" fill="url(#hl)"/>
<ellipse cx="1197.0" cy="118.4" rx="16.4" ry="18.3" fill="url(#hl)"/>
<ellipse cx="1239.2" cy="115.7" rx="14.9" ry="18.2" fill="url(#hl)"/>
<ellipse cx="1285.6" cy="120.8" rx="18.4" ry="16.6" fill="url(#hl)"/>
<ellipse cx="1331.0" cy="118.4" rx="17.2" ry="16.6" fill="url(#hl)"/>
<ellipse cx="1376.1" cy="122.7" rx="17.2" ry="18.8" fill="url(#hl)"/>
<ellipse cx="1424.7" cy="118.8" rx="18.6" ry="18.6" fill="url(#hl)"/>
<ellipse cx="809.5" cy="151.4" rx="13.7" ry="17.7" fill="url(#hl)"/>
<ellipse cx="871.3" cy="150.5" rx="17.3" ry="17.7" fill="url(#hl)"/>
<ellipse cx="910.1" cy="158.7" rx="14.5" ry="19.1" fill="url(#hl)"/>
<ellipse cx="949.4" cy="158.9" rx="18.0" ry="15.2" fill="url(#hl)"/>
<ellipse cx="992.6" cy="152.4" rx="14.4" ry="16.0" fill="url(#hl)"/>
<ellipse cx="1034.2" cy="154.5" rx="15.8" ry="14.5" fill="url(#hl)"/>
<ellipse cx="1084.6" cy="154.1" rx="13.7" ry="19.3" fill="url(#hl)"/>
<ellipse cx="1138.9" cy="150.0" rx="14.8" ry="14.6" fill="url(#hl)"/>
<ellipse cx="1178.3" cy="150.3" rx="15.7" ry="18.9" fill="url(#hl)"/>
<ellipse cx="1228.6" cy="150.5" rx="18.4" ry="17.2" fill="url(#hl)"/>
<ellipse cx="1273.5" cy="149.6" rx="17.2" ry="16.5" fill="url(#hl)"/>
<ellipse cx="1324.7" cy="155.3" rx="17.8" ry="14.8" fill="url(#hl)"/>
<ellipse cx="1361.8" cy="157.6" rx="15.8" ry="16.1" fill="url(#hl)"/>
<ellipse cx="1418.9" cy="151.7" rx="14.0" ry="17.0" fill="url(#hl)"/>
<ellipse cx="825.0" cy="186.7" rx="15.0" ry="15.9" fill="url(#hl)"/>
<ellipse cx="876.7" cy="189.6" rx="14.3" ry="16.1" fill="url(#hl)"/>
<ellipse cx="915.5" cy="184.8" rx="17.4" ry="17.1" fill="url(#hl)"/>
<ellipse cx="958.0" cy="194.0" rx="13.9" ry="18.5" fill="url(#hl)"/>
<ellipse cx="1002.9" cy="193.0" rx="15.5" ry="16.9" fill="url(#hl)"/>
<ellipse cx="1058.3" cy="188.1" rx="18.0" ry="17.9" fill="url(#hl)"/>
<ellipse cx="1095.5" cy="188.1" rx="13.6" ry="15.0" fill="url(#hl)"/>
<ellipse cx="1139.4" cy="187.2" rx="14.2" ry="14.8" fill="url(#hl)"/>
<ellipse cx="1191.3" cy="191.3" rx="14.9" ry="15.6" fill="url(#hl)"/>
<ellipse cx="1227.9" cy="186.2" rx="15.8" ry="15.7" fill="url(#hl)"/>
<ellipse cx="1286.2" cy="190.1" rx="14.7" ry="19.2" fill="url(#hl)"/>
<ellipse cx="1320.2" cy="184.6" rx="15.4" ry="16.7" fill="url(#hl)"/>
<ellipse cx="1362.3" cy="189.7" rx="13.3" ry="15.7" fill="url(#hl)"/>
<ellipse cx="1404.3" cy="185.1" rx="13.4" ry="15.9" fill="url(#hl)"/>
<ellipse cx="822.4" cy="229.7" rx="17.3" ry="18.8" fill="url(#hl)"/>
<ellipse cx="858.8" cy="233.0" rx="14.1" ry="18.0" fill="url(#hl)"/>
<ellipse cx="903.3" cy="231.5" rx="18.3" ry="17.5" fill="url(#hl)"/>
<ellipse cx="961.6" cy="224.5" rx="16.2" ry="16.9" fill="url(#hl)"/>
<ellipse cx="1011.3" cy="231.4" rx="16.6" ry="18.8" fill="url(#hl)"/>
<ellipse cx="1056.2" cy="225.4" rx="13.5" ry="15.0" fill="url(#hl)"/>
<ellipse cx="1092.1" cy="231.5" rx="16.4" ry="17.5" fill="url(#hl)"/>
<ellipse cx="1145.8" cy="228.0" rx="13.3" ry="18.4" fill="url(#hl)"/>
<ellipse cx="1193.1" cy="228.5" rx="17.0" ry="14.7" fill="url(#hl)"/>
<ellipse cx="1237.1" cy="223.9" rx="14.8" ry="18.0" fill="url(#hl)"/>
<ellipse cx="1285.3" cy="232.9" rx="16.1" ry="16.3" fill="url(#hl)"/>
<ellipse cx="1329.4" cy="230.8" rx="16.8" ry="17.6" fill="url(#hl)"/>
<ellipse cx="1361.3" cy="225.7" rx="17.5" ry="15.9" fill="url(#hl)"/>
<ellipse cx="1404.4" cy="223.8" rx="14.8" ry="17.7" fill="url(#hl)"/>
<ellipse cx="834.9" cy="266.8" rx="15.9" ry="15.0" fill="url(#hl)"/>
<ellipse cx="881.9" cy="272.0" rx="18.5" ry="14.5" fill="url(#hl)"/>
<ellipse cx="934.0" cy="271.9" rx="15.8" ry="15.7" fill="url(#hl)"/>
<ellipse cx="977.0" cy="264.3" rx="16.6" ry="15.1" fill="url(#hl)"/>
<ellipse cx="1022.9" cy="263.5" rx="17.9" ry="16.9" fill="url(#hl)"/>
<ellipse cx="1070.0" cy="264.5" rx="18.3" ry="16.8" fill="url(#hl)"/>
<ellipse cx="1097.7" cy="267.1" rx="15.8" ry="15.9" fill="url(#hl)"/>
<ellipse cx="1143.2" cy="265.4" rx="18.0" ry="14.4" fill="url(#hl)"/>
<ellipse cx="1198.8" cy="263.4" rx="18.5" ry="17.9" fill="url(#hl)"/>
<ellipse cx="1240.7" cy="265.9" rx="15.5" ry="19.4" fill="url(#hl)"/>
<ellipse cx="1287.7" cy="266.5" rx="14.8" ry="14.6" fill="url(#hl)"/>
<ellipse cx="1335.0" cy="265.1" rx="18.5" ry="15.6" fill="url(#hl)"/>
<ellipse cx="1371.1" cy="264.1" rx="15.4" ry="19.2" fill="url(#hl)"/>
<ellipse cx="1426.8" cy="268.5" rx="18.4" ry="19.1" fill="url(#hl)"/>
<ellipse cx="810.7" cy="306.0" rx="17.5" ry="17.6" fill="url(#hl)"/>
<ellipse cx="841.9" cy="310.8" rx="14.0" ry="16.7" fill="url(#hl)"/>
<ellipse cx="889.9" cy="308.9" rx="18.8" ry="15.7" fill="url(#hl)"/>
<ellipse cx="935.9" cy="307.1" rx="15.5" ry="15.2" fill="url(#hl)"/>
<ellipse cx="975.1" cy="310.6" rx="16.1" ry="15.5" fill="url(#hl)"/>
<ellipse cx="1036.1" cy="306.0" rx="14.1" ry="15.3" fill="url(#hl)"/>
<ellipse cx="1066.4" cy="302.4" rx="14.6" ry="15.7" fill="url(#hl)"/>
<ellipse cx="1120.4" cy="309.0" rx="15.6" ry="16.4" fill="url(#hl)"/>
<ellipse cx="1157.9" cy="304.9" rx="13.6" ry="15.8" fill="url(#hl)"/>
<ellipse cx="1207.0" cy="306.6" rx="16.8" ry="18.7" fill="url(#hl)"/>
<ellipse cx="1249.6" cy="304.0" rx="15.5" ry="16.6" fill="url(#hl)"/>
<ellipse cx="1308.3" cy="310.2" rx="13.4" ry="14.5" fill="url(#hl)"/>
<ellipse cx="1358.0" cy="306.3" rx="16.6" ry="14.4" fill="url(#hl)"/>
<ellipse cx="1402.5" cy="309.8" rx="18.1" ry="19.2" fill="url(#hl)"/>
<ellipse cx="1431.9" cy="303.1" rx="16.2" ry="17.8" fill="url(#hl)"/>
<ellipse cx="847.1" cy="345.4" rx="16.4" ry="14.6" fill="url(#hl)"/>
<ellipse cx="888.8" cy="350.0" rx="16.9" ry="15.9" fill="url(#hl)"/>
<ellipse cx="929.0" cy="347.2" rx="17.2" ry="14.9" fill="url(#hl)"/>
<ellipse cx="971.1" cy="346.7" rx="15.5" ry="15.5" fill="url(#hl)"/>
<ellipse cx="1010.5" cy="343.9" rx="15.9" ry="19.2" fill="url(#hl)"/>
<ellipse cx="1069.3" cy="345.6" rx="14.6" ry="15.6" fill="url(#hl)"/>
<ellipse cx="1117.8" cy="343.9" rx="13.4" ry="16.9" fill="url(#hl)"/>
<ellipse cx="1162.6" cy="343.4" rx="17.0" ry="19.0" fill="url(#hl)"/>
<ellipse cx="1197.8" cy="344.2" rx="15.7" ry="17.8" fill="url(#hl)"/>
<ellipse cx="1249.5" cy="348.2" rx="16.1" ry="15.4" fill="url(#hl)"/>
<ellipse cx="1293.7" cy="349.0" rx="14.6" ry="15.5" fill="url(#hl)"/>
<ellipse cx="1342.6" cy="350.4" rx="16.1" ry="15.3" fill="url(#hl)"/>
<ellipse cx="1386.4" cy="347.5" rx="18.6" ry="15.1" fill="url(#hl)"/>
<ellipse cx="1425.4" cy="350.6" rx="14.1" ry="14.6" fill="url(#hl)"/>
<ellipse cx="833.7" cy="385.5" rx="18.9" ry="19.0" fill="url(#hl)"/>
<ellipse cx="866.0" cy="387.6" rx="17.5" ry="14.5" fill="url(#hl)"/>
<ellipse cx="915.2" cy="381.9" rx="15.2" ry="15.2" fill="url(#hl)"/>
<ellipse cx="953.1" cy="381.7" rx="18.7" ry="15.0" fill="url(#hl)"/>
<ellipse cx="1003.3" cy="381.8" rx="17.9" ry="18.5" fill="url(#hl)"/>
<ellipse cx="1044.2" cy="382.9" rx="15.4" ry="19.0" fill="url(#hl)"/>
<ellipse cx="1088.7" cy="387.2" rx="13.5" ry="16.4" fill="url(#hl)"/>
<ellipse cx="1143.7" cy="378.6" rx="13.5" ry="14.7" fill="url(#hl)"/>
<ellipse cx="1189.2" cy="385.7" rx="18.3" ry="16.1" fill="url(#hl)"/>
<ellipse cx="1239.5" cy="384.4" rx="14.8" ry="18.0" fill="url(#hl)"/>
<ellipse cx="1273.4" cy="378.2" rx="17.5" ry="19.0" fill="url(#hl)"/>
<ellipse cx="1328.6" cy="378.5" rx="14.6" ry="16.8" fill="url(#hl)"/>
<ellipse cx="1380.1" cy="382.1" rx="14.7" ry="16.5" fill="url(#hl)"/>
<ellipse cx="1425.8" cy="380.0" rx="17.8" ry="18.1" fill="url(#hl)"/>
<ellipse cx="802.9" cy="7.5" rx="9.8" ry="13.6" fill="#08080c"/>
<ellipse cx="844.7" cy="6.1" rx="9.6" ry="13.2" fill="#08080c"/>
<ellipse cx="884.1" cy="5.2" rx="12.8" ry="12.0" fill="#08080c"/>
<ellipse cx="932.8" cy="10.5" rx="11.8" ry="13.1" fill="#08080c"/>
<ellipse cx="976.3" cy="9.6" rx="10.7" ry="12.1" fill="#08080c"/>
<ellipse cx="1019.6" cy="9.2" rx="10.2" ry="13.8" fill="#08080c"/>
<ellipse cx="1067.5" cy="6.5" rx="9.8" ry="11.7" fill="#08080c"/>
<ellipse cx="1112.7" cy="5.3" rx="10.8" ry="13.8" fill="#08080c"/>
<ellipse cx="1151.7" cy="8.9" rx="12.3" ry="12.5" fill="#08080c"/>
<ellipse cx="1200.9" cy="9.8" rx="12.4" ry="12.7" fill="#08080c"/>
<ellipse cx="1246.9" cy="5.2" rx="12.5" ry="12.1" fill="#08080c"/>
<ellipse cx="1290.6" cy="7.7" rx="12.6" ry="13.8" fill="#08080c"/>
<ellipse cx="1344.7" cy="8.0" rx="11.9" ry="13.8" fill="#08080c"/>
<ellipse cx="1396.5" cy="10.4" rx="11.4" ry="14.2" fill="#08080c"/>
<ellipse cx="1433.4" cy="7.5" rx="13.5" ry="14.8" fill="#08080c"/>
<ellipse cx="831.4" cy="42.9" rx="10.2" ry="12.0" fill="#08080c"/>
<ellipse cx="880.6" cy="39.6" rx="10.5" ry="13.1" fill="#08080c"/>
<ellipse cx="921.2" cy="42.8" rx="11.7" ry="15.0" fill="#08080c"/>
<ellipse cx="981.6" cy="41.1" rx="11.2" ry="12.9" fill="#08080c"/>
<ellipse cx="1033.3" cy="39.8" rx="10.2" ry="12.4" fill="#08080c"/>
<ellipse cx="1068.0" cy="44.2" rx="10.6" ry="11.5" fill="#08080c"/>
<ellipse cx="1110.2" cy="44.0" rx="13.3" ry="14.3" fill="#08080c"/>
<ellipse cx="1158.9" cy="45.1" rx="9.7" ry="15.1" fill="#08080c"/>
<ellipse cx="1211.4" cy="46.3" rx="11.1" ry="13.1" fill="#08080c"/>
<ellipse cx="1247.5" cy="38.9" rx="9.8" ry="12.3" fill="#08080c"/>
<ellipse cx="1283.7" cy="38.8" rx="9.5" ry="12.1" fill="#08080c"/>
<ellipse cx="1323.4" cy="38.6" rx="13.0" ry="14.0" fill="#08080c"/>
<ellipse cx="1361.9" cy="41.8" rx="11.0" ry="12.0" fill="#08080c"/>
<ellipse cx="1422.2" cy="43.0" rx="11.4" ry="11.8" fill="#08080c"/>
<ellipse cx="811.0" cy="77.0" rx="9.6" ry="15.3" fill="#08080c"/>
<ellipse cx="846.8" cy="80.8" rx="9.6" ry="13.6" fill="#08080c"/>
<ellipse cx="908.5" cy="82.3" rx="10.5" ry="13.0" fill="#08080c"/>
<ellipse cx="947.6" cy="80.7" rx="12.6" ry="12.8" fill="#08080c"/>
<ellipse cx="989.3" cy="85.2" rx="12.9" ry="14.7" fill="#08080c"/>
<ellipse cx="1037.7" cy="77.6" rx="11.6" ry="12.9" fill="#08080c"/>
<ellipse cx="1066.2" cy="78.2" rx="10.5" ry="14.3" fill="#08080c"/>
<ellipse cx="1123.4" cy="84.7" rx="13.5" ry="15.3" fill="#08080c"/>
<ellipse cx="1163.4" cy="77.6" rx="10.3" ry="12.3" fill="#08080c"/>
<ellipse cx="1219.6" cy="83.8" rx="11.4" ry="14.1" fill="#08080c"/>
<ellipse cx="1257.4" cy="82.0" rx="13.1" ry="14.6" fill="#08080c"/>
<ellipse cx="1311.4" cy="77.2" rx="12.7" ry="12.8" fill="#08080c"/>
<ellipse cx="1367.5" cy="79.3" rx="11.1" ry="15.3" fill="#08080c"/>
<ellipse cx="1404.4" cy="76.6" rx="10.1" ry="15.1" fill="#08080c"/>
<ellipse cx="848.6" cy="117.8" rx="10.9" ry="13.7" fill="#08080c"/>
<ellipse cx="874.9" cy="121.0" rx="12.1" ry="13.6" fill="#08080c"/>
<ellipse cx="931.8" cy="120.0" rx="12.8" ry="12.3" fill="#08080c"/>
<ellipse cx="971.4" cy="113.7" rx="11.8" ry="12.5" fill="#08080c"/>
<ellipse cx="1013.0" cy="120.3" rx="10.9" ry="13.3" fill="#08080c"/>
<ellipse cx="1070.0" cy="115.5" rx="13.2" ry="13.5" fill="#08080c"/>
<ellipse cx="1110.1" cy="111.4" rx="11.3" ry="12.2" fill="#08080c"/>
<ellipse cx="1152.0" cy="113.0" rx="11.4" ry="14.4" fill="#08080c"/>
<ellipse cx="1191.2" cy="116.4" rx="11.7" ry="14.6" fill="#08080c"/>
<ellipse cx="1233.9" cy="113.7" rx="10.6" ry="14.6" fill="#08080c"/>
<ellipse cx="1279.0" cy="118.8" rx="13.1" ry="13.3" fill="#08080c"/>
<ellipse cx="1324.8" cy="116.4" rx="12.3" ry="13.3" fill="#08080c"/>
<ellipse cx="1369.9" cy="120.7" rx="12.3" ry="15.0" fill="#08080c"/>
<ellipse cx="1418.1" cy="116.8" rx="13.3" ry="14.9" fill="#08080c"/>
<ellipse cx="804.6" cy="149.4" rx="9.8" ry="14.2" fill="#08080c"/>
<ellipse cx="865.1" cy="148.5" rx="12.4" ry="14.1" fill="#08080c"/>
<ellipse cx="904.9" cy="156.7" rx="10.4" ry="15.3" fill="#08080c"/>
<ellipse cx="943.0" cy="156.9" rx="12.8" ry="12.1" fill="#08080c"/>
<ellipse cx="987.4" cy="150.4" rx="10.3" ry="12.8" fill="#08080c"/>
<ellipse cx="1028.6" cy="152.5" rx="11.3" ry="11.6" fill="#08080c"/>
<ellipse cx="1079.7" cy="152.1" rx="9.8" ry="15.4" fill="#08080c"/>
<ellipse cx="1133.6" cy="148.0" rx="10.6" ry="11.7" fill="#08080c"/>
<ellipse cx="1172.7" cy="148.3" rx="11.2" ry="15.1" fill="#08080c"/>
<ellipse cx="1222.0" cy="148.5" rx="13.2" ry="13.8" fill="#08080c"/>
<ellipse cx="1267.4" cy="147.6" rx="12.3" ry="13.2" fill="#08080c"/>
<ellipse cx="1318.3" cy="153.3" rx="12.7" ry="11.8" fill="#08080c"/>
<ellipse cx="1356.1" cy="155.6" rx="11.3" ry="12.9" fill="#08080c"/>
<ellipse cx="1413.9" cy="149.7" rx="10.0" ry="13.6" fill="#08080c"/>
<ellipse cx="819.6" cy="184.7" rx="10.7" ry="12.7" fill="#08080c"/>
<ellipse cx="871.6" cy="187.6" rx="10.2" ry="12.9" fill="#08080c"/>
<ellipse cx="909.3" cy="182.8" rx="12.4" ry="13.7" fill="#08080c"/>
<ellipse cx="953.1" cy="192.0" rx="9.9" ry="14.8" fill="#08080c"/>
<ellipse cx="997.4" cy="191.0" rx="11.1" ry="13.5" fill="#08080c"/>
<ellipse cx="1051.8" cy="186.1" rx="12.8" ry="14.3" fill="#08080c"/>
<ellipse cx="1090.7" cy="186.1" rx="9.7" ry="12.0" fill="#08080c"/>
<ellipse cx="1134.4" cy="185.2" rx="10.2" ry="11.8" fill="#08080c"/>
<ellipse cx="1186.0" cy="189.3" rx="10.6" ry="12.5" fill="#08080c"/>
<ellipse cx="1222.3" cy="184.2" rx="11.3" ry="12.6" fill="#08080c"/>
<ellipse cx="1280.9" cy="188.1" rx="10.5" ry="15.4" fill="#08080c"/>
<ellipse cx="1314.7" cy="182.6" rx="11.0" ry="13.4" fill="#08080c"/>
<ellipse cx="1357.5" cy="187.7" rx="9.5" ry="12.6" fill="#08080c"/>
<ellipse cx="1399.6" cy="183.1" rx="9.6" ry="12.7" fill="#08080c"/>
<ellipse cx="816.2" cy="227.7" rx="12.4" ry="15.0" fill="#08080c"/>
<ellipse cx="853.7" cy="231.0" rx="10.1" ry="14.4" fill="#08080c"/>
<ellipse cx="896.8" cy="229.5" rx="13.1" ry="14.0" fill="#08080c"/>
<ellipse cx="955.8" cy="222.5" rx="11.6" ry="13.5" fill="#08080c"/>
<ellipse cx="1005.4" cy="229.4" rx="11.8" ry="15.1" fill="#08080c"/>
<ellipse cx="1051.4" cy="223.4" rx="9.6" ry="12.0" fill="#08080c"/>
<ellipse cx="1086.2" cy="229.5" rx="11.7" ry="14.0" fill="#08080c"/>
<ellipse cx="1141.0" cy="226.0" rx="9.5" ry="14.7" fill="#08080c"/>
<ellipse cx="1187.0" cy="226.5" rx="12.1" ry="11.8" fill="#08080c"/>
<ellipse cx="1231.8" cy="221.9" rx="10.6" ry="14.4" fill="#08080c"/>
<ellipse cx="1279.5" cy="230.9" rx="11.5" ry="13.0" fill="#08080c"/>
<ellipse cx="1323.4" cy="228.8" rx="12.0" ry="14.1" fill="#08080c"/>
<ellipse cx="1355.0" cy="223.7" rx="12.5" ry="12.7" fill="#08080c"/>
<ellipse cx="1399.1" cy="221.8" rx="10.6" ry="14.2" fill="#08080c"/>
<ellipse cx="829.2" cy="264.8" rx="11.4" ry="12.0" fill="#08080c"/>
<ellipse cx="875.3" cy="270.0" rx="13.2" ry="11.6" fill="#08080c"/>
<ellipse cx="928.4" cy="269.9" rx="11.3" ry="12.6" fill="#08080c"/>
<ellipse cx="971.1" cy="262.3" rx="11.8" ry="12.1" fill="#08080c"/>
<ellipse cx="1016.5" cy="261.5" rx="12.8" ry="13.5" fill="#08080c"/>
<ellipse cx="1063.5" cy="262.5" rx="13.1" ry="13.4" fill="#08080c"/>
<ellipse cx="1092.0" cy="265.1" rx="11.3" ry="12.7" fill="#08080c"/>
<ellipse cx="1136.7" cy="263.4" rx="12.9" ry="11.5" fill="#08080c"/>
<ellipse cx="1192.2" cy="261.4" rx="13.2" ry="14.4" fill="#08080c"/>
<ellipse cx="1235.1" cy="263.9" rx="11.1" ry="15.5" fill="#08080c"/>
<ellipse cx="1282.4" cy="264.5" rx="10.6" ry="11.7" fill="#08080c"/>
<ellipse cx="1328.4" cy="263.1" rx="13.2" ry="12.5" fill="#08080c"/>
<ellipse cx="1365.6" cy="262.1" rx="11.0" ry="15.3" fill="#08080c"/>
<ellipse cx="1420.2" cy="266.5" rx="13.2" ry="15.3" fill="#08080c"/>
<ellipse cx="804.4" cy="304.0" rx="12.5" ry="14.1" fill="#08080c"/>
<ellipse cx="836.9" cy="308.8" rx="10.0" ry="13.4" fill="#08080c"/>
<ellipse cx="883.2" cy="306.9" rx="13.4" ry="12.5" fill="#08080c"/>
<ellipse cx="930.4" cy="305.1" rx="11.1" ry="12.2" fill="#08080c"/>
<ellipse cx="969.4" cy="308.6" rx="11.5" ry="12.4" fill="#08080c"/>
<ellipse cx="1031.1" cy="304.0" rx="10.1" ry="12.3" fill="#08080c"/>
<ellipse cx="1061.2" cy="300.4" rx="10.5" ry="12.5" fill="#08080c"/>
<ellipse cx="1114.8" cy="307.0" rx="11.2" ry="13.2" fill="#08080c"/>
<ellipse cx="1153.0" cy="302.9" rx="9.7" ry="12.6" fill="#08080c"/>
<ellipse cx="1201.0" cy="304.6" rx="12.0" ry="15.0" fill="#08080c"/>
<ellipse cx="1244.1" cy="302.0" rx="11.1" ry="13.3" fill="#08080c"/>
<ellipse cx="1303.5" cy="308.2" rx="9.6" ry="11.6" fill="#08080c"/>
<ellipse cx="1352.1" cy="304.3" rx="11.8" ry="11.5" fill="#08080c"/>
<ellipse cx="1396.0" cy="307.8" rx="12.9" ry="15.4" fill="#08080c"/>
<ellipse cx="1426.1" cy="301.1" rx="11.6" ry="14.2" fill="#08080c"/>
<ellipse cx="841.2" cy="343.4" rx="11.7" ry="11.7" fill="#08080c"/>
<ellipse cx="882.7" cy="348.0" rx="12.1" ry="12.7" fill="#08080c"/>
<ellipse cx="922.8" cy="345.2" rx="12.3" ry="11.9" fill="#08080c"/>
<ellipse cx="965.6" cy="344.7" rx="11.1" ry="12.4" fill="#08080c"/>
<ellipse cx="1004.8" cy="341.9" rx="11.3" ry="15.3" fill="#08080c"/>
<ellipse cx="1064.1" cy="343.6" rx="10.4" ry="12.5" fill="#08080c"/>
<ellipse cx="1113.0" cy="341.9" rx="9.6" ry="13.5" fill="#08080c"/>
<ellipse cx="1156.5" cy="341.4" rx="12.2" ry="15.2" fill="#08080c"/>
<ellipse cx="1192.2" cy="342.2" rx="11.2" ry="14.2" fill="#08080c"/>
<ellipse cx="1243.7" cy="346.2" rx="11.5" ry="12.3" fill="#08080c"/>
<ellipse cx="1288.5" cy="347.0" rx="10.4" ry="12.4" fill="#08080c"/>
<ellipse cx="1336.9" cy="348.4" rx="11.5" ry="12.2" fill="#08080c"/>
<ellipse cx="1379.7" cy="345.5" rx="13.3" ry="12.1" fill="#08080c"/>
<ellipse cx="1420.4" cy="348.6" rx="10.1" ry="11.7" fill="#08080c"/>
<ellipse cx="826.9" cy="383.5" rx="13.5" ry="15.2" fill="#08080c"/>
<ellipse cx="859.8" cy="385.6" rx="12.5" ry="11.6" fill="#08080c"/>
<ellipse cx="909.8" cy="379.9" rx="10.8" ry="12.2" fill="#08080c"/>
<ellipse cx="946.4" cy="379.7" rx="13.3" ry="12.0" fill="#08080c"/>
<ellipse cx="996.9" cy="379.8" rx="12.8" ry="14.8" fill="#08080c"/>
<ellipse cx="1038.8" cy="380.9" rx="11.0" ry="15.2" fill="#08080c"/>
<ellipse cx="1083.9" cy="385.2" rx="9.6" ry="13.1" fill="#08080c"/>
<ellipse cx="1138.9" cy="376.6" rx="9.6" ry="11.8" fill="#08080c"/>
<ellipse cx="1182.6" cy="383.7" rx="13.1" ry="12.9" fill="#08080c"/>
<ellipse cx="1234.2" cy="382.4" rx="10.5" ry="14.4" fill="#08080c"/>
<ellipse cx="1267.1" cy="376.2" rx="12.5" ry="15.2" fill="#08080c"/>
<ellipse cx="1323.3" cy="376.5" rx="10.4" ry="13.4" fill="#08080c"/>
<ellipse cx="1374.9" cy="380.1" rx="10.5" ry="13.2" fill="#08080c"/>
<ellipse cx="1419.4" cy="378.0" rx="12.7" ry="14.5" fill="#08080c"/>
</g>
</g>
<rect x="1205" y="20.3" width="180" height="12.7" fill="#ffffff"/>
<text x="1225" y="98" fill="#ffffff" stroke="#ffffff" stroke-width="0.9" text-anchor="start" style="font-size:66px;" >1 μm</text>
<line x1="1517" y1="196.5" x2="1434.0" y2="196.5" stroke="#1a1a22" stroke-width="2.2"/>
<polygon points="1416.0,196.5 1436.0,189.0 1436.0,204.0" fill="#0a0a0a"/>
<text x="1480" y="170" fill="#0a0a0a" stroke="#0a0a0a" stroke-width="0.9" text-anchor="start" style="font-size:66px;" >SEM image of the</text>
<text x="1534" y="249.3" fill="#0a0a0a" stroke="#0a0a0a" stroke-width="0.9" text-anchor="start" style="font-size:66px;" >target surface</text>
<polygon points="395.3,349 474,349 466,182" fill="url(#cone)"/>
<rect x="153.7" y="349" width="322" height="61" fill="#a80b07"/>
<path d="M358,417.4 C380,432 410,443 432,441 C458,438 485,420 496,392 C506,365 502,335 480.5,305.4 C478,330 470,360 454,378 C440,395 420,408 400,413 C385,417 370,418 358,417.4 Z" fill="#f2a823"/>
<g transform="translate(464.7,177.5) scale(0.78,1)"><polygon points="0.0,-21.0 5.0,-6.9 20.0,-6.5 8.1,2.6 12.3,17.0 0.0,8.5 -12.3,17.0 -8.1,2.6 -20.0,-6.5 -5.0,-6.9" fill="#f4a81c"/></g>
<line x1="473.6" y1="177.6" x2="1125" y2="607.7" stroke="#30323e" stroke-width="2" stroke-dasharray="5,3" stroke-dashoffset="0"/>
<line x1="472" y1="180" x2="1125" y2="621.4" stroke="#30323e" stroke-width="2" stroke-dasharray="5,3" stroke-dashoffset="2.5"/>
<line x1="470.4" y1="182.4" x2="1125" y2="635.1" stroke="#30323e" stroke-width="2" stroke-dasharray="5,3" stroke-dashoffset="5"/>
<text x="185" y="330.5" fill="#0a0a0a" stroke="#0a0a0a" stroke-width="0.9" text-anchor="start" style="font-size:66px;" >laser</text>
<text x="547" y="553.5" fill="#0a0a0a" stroke="#0a0a0a" stroke-width="0.9" text-anchor="start" style="font-size:66px;" >target</text>
<text x="136" y="638.8" fill="#0a0a0a" stroke="#0a0a0a" stroke-width="0.9" text-anchor="start" style="font-size:66px;" >parabolic mirror</text>
<line x1="377" y1="577" x2="411.8" y2="470.0" stroke="#1a1a22" stroke-width="2.2"/>
<polygon points="418.0,451.0 418.8,474.4 403.6,469.4" fill="#0a0a0a"/>
<line x1="596" y1="484" x2="544.5" y2="304.2" stroke="#1a1a22" stroke-width="2.2"/>
<polygon points="539.0,285.0 552.7,303.9 537.4,308.4" fill="#0a0a0a"/>
<line x1="623.3" y1="592.5" x2="623.3" y2="817.2" stroke="#1a1a22" stroke-width="2.4"/>
<polygon points="623.3,831.2 615.8,815.2 630.8,815.2" fill="#0a0a0a"/>
<text x="993" y="517.8" fill="#0a0a0a" stroke="#0a0a0a" stroke-width="0.9" text-anchor="start" style="font-size:66px;" >ions</text>
<rect x="536" y="858" width="36.700000000000045" height="380.4000000000001" fill="#f4f4f2" stroke="#e2e2de" stroke-width="2"/>
<rect x="631.7" y="859" width="39.89999999999998" height="381" fill="#f4f4f2" stroke="#e2e2de" stroke-width="2"/>
<rect x="727.8" y="860" width="37.90000000000009" height="382" fill="#f4f4f2" stroke="#e2e2de" stroke-width="2"/>
<rect x="824.4" y="860" width="38.30000000000007" height="380" fill="#f4f4f2" stroke="#e2e2de" stroke-width="2"/>
<rect x="482.9" y="859" width="52.10000000000002" height="377.5" fill="#1f1e2b"/>
<rect x="577.5" y="859.8" width="53.200000000000045" height="377.20000000000005" fill="#1f1e2b"/>
<rect x="673" y="861" width="52.5" height="377.4000000000001" fill="#1f1e2b"/>
<rect x="769.6" y="863" width="52.69999999999993" height="377.29999999999995" fill="#1f1e2b"/>
<rect x="865.7" y="861" width="52.799999999999955" height="377.4000000000001" fill="#1f1e2b"/>
<line x1="938.5" y1="870" x2="938.5" y2="1222" stroke="#4a4a5c" stroke-width="2.6"/>
<polygon points="938.5,856 931,871 946,871" fill="#0a0a0a"/>
<polygon points="938.5,1236.5 931,1221.5 946,1221.5" fill="#0a0a0a"/>
<text x="958" y="1061.2" fill="#0a0a0a" stroke="#0a0a0a" stroke-width="0.9" text-anchor="start" style="font-size:66px;font-style:italic;" >h</text>
<path d="M673,858 C673,836 675,836 683,836 L695.2,836 C699.2,836 700.2,832 700.2,809 M700.2,832 C700.2,832 701.2,836 705.2,836 L717.4,836 C725.4,836 727.4,836 727.4,858" fill="none" stroke="#2e3040" stroke-width="2.6"/>
<path d="M823.5,858 C823.5,838 825.5,838 833.5,838 L838.95,838 C842.95,838 843.95,834 843.95,810 M843.95,834 C843.95,834 844.95,838 848.95,838 L854.4,838 C862.4,838 864.4,838 864.4,858" fill="none" stroke="#2e3040" stroke-width="2.6"/>
<text x="671" y="793" fill="#0a0a0a" stroke="#0a0a0a" stroke-width="0.9" text-anchor="start" style="font-size:66px;font-style:italic;" >d</text>
<text x="705" y="806.9" fill="#0a0a0a" stroke="#0a0a0a" stroke-width="0.9" text-anchor="start" style="font-size:38px;" >2</text>
<text x="813" y="793" fill="#0a0a0a" stroke="#0a0a0a" stroke-width="0.9" text-anchor="start" style="font-size:66px;font-style:italic;" >d</text>
<text x="850" y="806.9" fill="#0a0a0a" stroke="#0a0a0a" stroke-width="0.9" text-anchor="start" style="font-size:38px;" >1</text>
<polygon points="1183.7,829.4 1375.3,737.9 1529.4,781.7 1337.8,873.2" fill="#d03c0a" stroke="#ffffff" stroke-width="7" stroke-linejoin="miter" style="paint-order:stroke"/>
<polygon points="1152.8,803 1352,708 1499,752 1307.6,844.7" fill="#6e4a08" stroke="#ffffff" stroke-width="7" stroke-linejoin="miter" style="paint-order:stroke"/>
<polygon points="1083,715.5 1270,626 1428,673 1235.3,761" fill="#6e4a08" stroke="#ffffff" stroke-width="7" stroke-linejoin="miter" style="paint-order:stroke"/>
<polygon points="1037.8,660.4 1232.5,576 1385.5,625.1 1189,709.5" fill="#d03c0a" stroke="#ffffff" stroke-width="7" stroke-linejoin="miter" style="paint-order:stroke"/>
<line x1="1292" y1="739" x2="1574" y2="809" stroke="#1e1e28" stroke-width="2.3" stroke-dasharray="6,4"/>
<line x1="1292" y1="739" x2="1542" y2="853" stroke="#1e1e28" stroke-width="2.3" stroke-dasharray="6,4"/>
<line x1="1292" y1="739" x2="1522.6" y2="895" stroke="#1e1e28" stroke-width="2.3" stroke-dasharray="6,4"/>
<line x1="1145.4" y1="892" x2="1229.5" y2="733.2" stroke="#1a1a22" stroke-width="2.2"/>
<polygon points="1238.9,715.5 1235.7,738.7 1221.5,731.2" fill="#0a0a0a"/>
<line x1="1145.4" y1="892" x2="1241.4" y2="788.2" stroke="#1a1a22" stroke-width="2.2"/>
<polygon points="1255.0,773.5 1245.9,795.1 1234.2,784.2" fill="#0a0a0a"/>
<line x1="1356.5" y1="975.9" x2="1215.3" y2="643.4" stroke="#1a1a22" stroke-width="2.2"/>
<polygon points="1207.5,625.0 1223.5,642.1 1208.7,648.4" fill="#0a0a0a"/>
<line x1="1356.5" y1="975.9" x2="1376.1" y2="861.7" stroke="#1a1a22" stroke-width="2.2"/>
<polygon points="1379.5,842.0 1383.7,865.0 1367.9,862.3" fill="#0a0a0a"/>
<text x="1005" y="947" fill="#0a0a0a" stroke="#0a0a0a" stroke-width="0.9" text-anchor="start" style="font-size:66px;" >electrodes</text>
<text x="1230" y="1028" fill="#0a0a0a" stroke="#0a0a0a" stroke-width="0.9" text-anchor="start" style="font-size:66px;" >magnets</text>
<ellipse cx="1641.3" cy="944" rx="129" ry="166" fill="none" stroke="#f080c0" stroke-width="12" filter="url(#blur6)" opacity="0.9"/>
<ellipse cx="1641.3" cy="944" rx="125" ry="162" fill="none" stroke="#cc1860" stroke-width="7" filter="url(#blur2)" opacity="0.95"/>
<ellipse cx="1641.3" cy="944" rx="122" ry="159" fill="none" stroke="#d0103c" stroke-width="4.5"/>
<ellipse cx="1641.3" cy="944" rx="119.5" ry="156.5" fill="#e6e6e3" stroke="#ffffff" stroke-width="1.6"/>
<line x1="1618" y1="967.6" x2="1622.5" y2="740" stroke="#111" stroke-width="4.2" stroke-dasharray="13,6"/>
<polyline points="1614.5,750 1622.7,734 1633.6,750" fill="none" stroke="#111" stroke-width="4.2" stroke-linejoin="miter"/>
<line x1="1618" y1="967.6" x2="1732" y2="978" stroke="#111" stroke-width="4.2" stroke-dasharray="13,6"/>
<polyline points="1720.8,968.5 1738,978.5 1720.8,988" fill="none" stroke="#111" stroke-width="4.2" stroke-linejoin="miter"/>
<path d="M1618,967.6 C1612,935 1614,895 1624,875 C1634,855 1650,845 1666.3,841.4" fill="none" stroke="#5716c4" stroke-width="6" stroke-linecap="butt"/>
<path d="M1618,967.6 C1626,935 1645,900 1662,890 C1675,884 1684,882.5 1692.8,882.5" fill="none" stroke="#5716c4" stroke-width="6" stroke-linecap="butt"/>
<path d="M1618,967.6 C1630,945 1650,918 1668,910 C1680,906 1688,905.9 1695.9,905.9" fill="none" stroke="#5716c4" stroke-width="6" stroke-linecap="butt"/>
<path d="M1618,967.6 C1635,950 1660,932 1685,928.6 C1700,927 1712,930 1719.2,933.3" fill="none" stroke="#5716c4" stroke-width="6" stroke-linecap="butt"/>
<line x1="1677" y1="741.8" x2="1655.1" y2="813.1" stroke="#1a1a22" stroke-width="2.2"/>
<polygon points="1650.7,827.4 1649.5,809.2 1661.9,813.1" fill="#0a0a0a"/>
<line x1="1737.9" y1="752.7" x2="1678.6" y2="853.5" stroke="#1a1a22" stroke-width="2.2"/>
<polygon points="1671.0,866.4 1674.0,848.5 1685.2,855.0" fill="#0a0a0a"/>
<line x1="1768" y1="811.2" x2="1700.9" y2="890.7" stroke="#1a1a22" stroke-width="2.2"/>
<polygon points="1691.2,902.2 1697.2,885.0 1707.1,893.4" fill="#0a0a0a"/>
<line x1="1813" y1="861" x2="1729.7" y2="924.2" stroke="#1a1a22" stroke-width="2.2"/>
<polygon points="1717.7,933.3 1727.3,917.8 1735.2,928.2" fill="#0a0a0a"/>
<text x="1647" y="732.9" fill="#0a0a0a" stroke="#0a0a0a" stroke-width="0.9" text-anchor="start" style="font-size:66px;" >H</text>
<text x="1695" y="713" fill="#0a0a0a" stroke="#0a0a0a" stroke-width="0.9" text-anchor="start" style="font-size:40px;" >+</text>
<text x="1735.5" y="746" fill="#0a0a0a" stroke="#0a0a0a" stroke-width="0.9" text-anchor="start" style="font-size:66px;" >C</text>
<text x="1778" y="726" fill="#0a0a0a" stroke="#0a0a0a" stroke-width="0.9" text-anchor="start" style="font-size:40px;" >3+</text>
<text x="1779.5" y="812" fill="#0a0a0a" stroke="#0a0a0a" stroke-width="0.9" text-anchor="start" style="font-size:66px;" >C</text>
<text x="1823" y="792" fill="#0a0a0a" stroke="#0a0a0a" stroke-width="0.9" text-anchor="start" style="font-size:40px;" >2+</text>
<text x="1815" y="871" fill="#0a0a0a" stroke="#0a0a0a" stroke-width="0.9" text-anchor="start" style="font-size:66px;" >C</text>
<text x="1859" y="851" fill="#0a0a0a" stroke="#0a0a0a" stroke-width="0.9" text-anchor="start" style="font-size:40px;" >+</text>
<text x="1570" y="890.5" fill="#0a0a0a" stroke="#0a0a0a" stroke-width="0.9" text-anchor="start" style="font-size:66px;font-style:italic;" >Y</text>
<text x="1654" y="1031.5" fill="#0a0a0a" stroke="#0a0a0a" stroke-width="0.9" text-anchor="start" style="font-size:66px;font-style:italic;" >X</text>
<text x="1572" y="1195" fill="#0a0a0a" stroke="#0a0a0a" stroke-width="0.9" text-anchor="start" style="font-size:66px;" >MCP</text>
<text x="943" y="1381.7" fill="#0a0a0a" stroke="#0a0a0a" stroke-width="0.9" text-anchor="start" style="font-size:66px;" >(a)</text>
<path d="M2319.6,52.4 L2319.6,548.5 L3827.5,548.5" fill="none" stroke="#0c0c0c" stroke-width="3.6" stroke-linejoin="miter"/>
<line x1="2487.7" y1="548.5" x2="2487.7" y2="527.5" stroke="#0c0c0c" stroke-width="3.4"/>
<line x1="2654.9" y1="548.5" x2="2654.9" y2="527.5" stroke="#0c0c0c" stroke-width="3.4"/>
<line x1="2822.2" y1="548.5" x2="2822.2" y2="527.5" stroke="#0c0c0c" stroke-width="3.4"/>
<line x1="2989.4" y1="548.5" x2="2989.4" y2="527.5" stroke="#0c0c0c" stroke-width="3.4"/>
<line x1="3156.7" y1="548.5" x2="3156.7" y2="527.5" stroke="#0c0c0c" stroke-width="3.4"/>
<line x1="3323.9" y1="548.5" x2="3323.9" y2="527.5" stroke="#0c0c0c" stroke-width="3.4"/>
<line x1="3491.2" y1="548.5" x2="3491.2" y2="527.5" stroke="#0c0c0c" stroke-width="3.4"/>
<line x1="3658.4" y1="548.5" x2="3658.4" y2="527.5" stroke="#0c0c0c" stroke-width="3.4"/>
<line x1="3825.7" y1="548.5" x2="3825.7" y2="527.5" stroke="#0c0c0c" stroke-width="3.4"/>
<line x1="2404.0" y1="548.5" x2="2404.0" y2="537.5" stroke="#0c0c0c" stroke-width="3.4"/>
<line x1="2571.3" y1="548.5" x2="2571.3" y2="537.5" stroke="#0c0c0c" stroke-width="3.4"/>
<line x1="2738.5" y1="548.5" x2="2738.5" y2="537.5" stroke="#0c0c0c" stroke-width="3.4"/>
<line x1="2905.8" y1="548.5" x2="2905.8" y2="537.5" stroke="#0c0c0c" stroke-width="3.4"/>
<line x1="3073.0" y1="548.5" x2="3073.0" y2="537.5" stroke="#0c0c0c" stroke-width="3.4"/>
<line x1="3240.3" y1="548.5" x2="3240.3" y2="537.5" stroke="#0c0c0c" stroke-width="3.4"/>
<line x1="3407.5" y1="548.5" x2="3407.5" y2="537.5" stroke="#0c0c0c" stroke-width="3.4"/>
<line x1="3574.8" y1="548.5" x2="3574.8" y2="537.5" stroke="#0c0c0c" stroke-width="3.4"/>
<line x1="3742.0" y1="548.5" x2="3742.0" y2="537.5" stroke="#0c0c0c" stroke-width="3.4"/>
<line x1="2319.6" y1="424.9" x2="2341.6" y2="424.9" stroke="#0c0c0c" stroke-width="3.8"/>
<line x1="2319.6" y1="301.4" x2="2341.6" y2="301.4" stroke="#0c0c0c" stroke-width="3.8"/>
<line x1="2319.6" y1="177.8" x2="2341.6" y2="177.8" stroke="#0c0c0c" stroke-width="3.8"/>
<line x1="2319.6" y1="54.3" x2="2341.6" y2="54.3" stroke="#0c0c0c" stroke-width="3.8"/>
<line x1="2319.6" y1="486.7" x2="2330.6" y2="486.7" stroke="#0c0c0c" stroke-width="3.8"/>
<line x1="2319.6" y1="363.2" x2="2330.6" y2="363.2" stroke="#0c0c0c" stroke-width="3.8"/>
<line x1="2319.6" y1="239.6" x2="2330.6" y2="239.6" stroke="#0c0c0c" stroke-width="3.8"/>
<line x1="2319.6" y1="116.1" x2="2330.6" y2="116.1" stroke="#0c0c0c" stroke-width="3.8"/>
<text x="2296" y="564.0" fill="#0a0a0a" stroke="#0a0a0a" stroke-width="0.9" text-anchor="end" style="font-size:66px;" >0</text>
<text x="2296" y="440.45" fill="#0a0a0a" stroke="#0a0a0a" stroke-width="0.9" text-anchor="end" style="font-size:66px;" >100</text>
<text x="2296" y="316.9" fill="#0a0a0a" stroke="#0a0a0a" stroke-width="0.9" text-anchor="end" style="font-size:66px;" >200</text>
<text x="2296" y="193.34999999999997" fill="#0a0a0a" stroke="#0a0a0a" stroke-width="0.9" text-anchor="end" style="font-size:66px;" >300</text>
<text x="2296" y="69.79999999999995" fill="#0a0a0a" stroke="#0a0a0a" stroke-width="0.9" text-anchor="end" style="font-size:66px;" >400</text>
<path d="M2319.4,648 L2319.4,1142.2 L3825,1142.2" fill="none" stroke="#0c0c0c" stroke-width="3.6" stroke-linejoin="miter"/>
<line x1="2484.8" y1="1142.2" x2="2484.8" y2="1121.2" stroke="#0c0c0c" stroke-width="3.4"/>
<line x1="2652.0" y1="1142.2" x2="2652.0" y2="1121.2" stroke="#0c0c0c" stroke-width="3.4"/>
<line x1="2819.2" y1="1142.2" x2="2819.2" y2="1121.2" stroke="#0c0c0c" stroke-width="3.4"/>
<line x1="2986.5" y1="1142.2" x2="2986.5" y2="1121.2" stroke="#0c0c0c" stroke-width="3.4"/>
<line x1="3153.8" y1="1142.2" x2="3153.8" y2="1121.2" stroke="#0c0c0c" stroke-width="3.4"/>
<line x1="3321.0" y1="1142.2" x2="3321.0" y2="1121.2" stroke="#0c0c0c" stroke-width="3.4"/>
<line x1="3488.2" y1="1142.2" x2="3488.2" y2="1121.2" stroke="#0c0c0c" stroke-width="3.4"/>
<line x1="3655.5" y1="1142.2" x2="3655.5" y2="1121.2" stroke="#0c0c0c" stroke-width="3.4"/>
<line x1="3822.8" y1="1142.2" x2="3822.8" y2="1121.2" stroke="#0c0c0c" stroke-width="3.4"/>
<line x1="2401.1" y1="1142.2" x2="2401.1" y2="1131.2" stroke="#0c0c0c" stroke-width="3.4"/>
<line x1="2568.4" y1="1142.2" x2="2568.4" y2="1131.2" stroke="#0c0c0c" stroke-width="3.4"/>
<line x1="2735.6" y1="1142.2" x2="2735.6" y2="1131.2" stroke="#0c0c0c" stroke-width="3.4"/>
<line x1="2902.9" y1="1142.2" x2="2902.9" y2="1131.2" stroke="#0c0c0c" stroke-width="3.4"/>
<line x1="3070.1" y1="1142.2" x2="3070.1" y2="1131.2" stroke="#0c0c0c" stroke-width="3.4"/>
<line x1="3237.4" y1="1142.2" x2="3237.4" y2="1131.2" stroke="#0c0c0c" stroke-width="3.4"/>
<line x1="3404.6" y1="1142.2" x2="3404.6" y2="1131.2" stroke="#0c0c0c" stroke-width="3.4"/>
<line x1="3571.9" y1="1142.2" x2="3571.9" y2="1131.2" stroke="#0c0c0c" stroke-width="3.4"/>
<line x1="3739.1" y1="1142.2" x2="3739.1" y2="1131.2" stroke="#0c0c0c" stroke-width="3.4"/>
<line x1="2319.4" y1="1070.2" x2="2341.4" y2="1070.2" stroke="#0c0c0c" stroke-width="3.8"/>
<line x1="2319.4" y1="930.0" x2="2341.4" y2="930.0" stroke="#0c0c0c" stroke-width="3.8"/>
<line x1="2319.4" y1="789.8" x2="2341.4" y2="789.8" stroke="#0c0c0c" stroke-width="3.8"/>
<line x1="2319.4" y1="649.6" x2="2341.4" y2="649.6" stroke="#0c0c0c" stroke-width="3.8"/>
<line x1="2319.4" y1="1000.1" x2="2330.4" y2="1000.1" stroke="#0c0c0c" stroke-width="3.8"/>
<line x1="2319.4" y1="859.9" x2="2330.4" y2="859.9" stroke="#0c0c0c" stroke-width="3.8"/>
<line x1="2319.4" y1="719.7" x2="2330.4" y2="719.7" stroke="#0c0c0c" stroke-width="3.8"/>
<text x="2295" y="1085.7" fill="#0a0a0a" stroke="#0a0a0a" stroke-width="0.9" text-anchor="end" style="font-size:66px;" >1</text>
<text x="2295" y="945.5" fill="#0a0a0a" stroke="#0a0a0a" stroke-width="0.9" text-anchor="end" style="font-size:66px;" >2</text>
<text x="2295" y="805.3000000000001" fill="#0a0a0a" stroke="#0a0a0a" stroke-width="0.9" text-anchor="end" style="font-size:66px;" >3</text>
<text x="2295" y="665.1000000000001" fill="#0a0a0a" stroke="#0a0a0a" stroke-width="0.9" text-anchor="end" style="font-size:66px;" >4</text>
<text x="2317.5" y="1216.4" fill="#0a0a0a" stroke="#0a0a0a" stroke-width="0.9" text-anchor="middle" style="font-size:66px;" >0</text>
<text x="2484.75" y="1216.4" fill="#0a0a0a" stroke="#0a0a0a" stroke-width="0.9" text-anchor="middle" style="font-size:66px;" >25</text>
<text x="2652.0" y="1216.4" fill="#0a0a0a" stroke="#0a0a0a" stroke-width="0.9" text-anchor="middle" style="font-size:66px;" >50</text>
<text x="2819.25" y="1216.4" fill="#0a0a0a" stroke="#0a0a0a" stroke-width="0.9" text-anchor="middle" style="font-size:66px;" >75</text>
<text x="2986.5" y="1216.4" fill="#0a0a0a" stroke="#0a0a0a" stroke-width="0.9" text-anchor="middle" style="font-size:66px;" >100</text>
<text x="3153.75" y="1216.4" fill="#0a0a0a" stroke="#0a0a0a" stroke-width="0.9" text-anchor="middle" style="font-size:66px;" >125</text>
<text x="3321.0" y="1216.4" fill="#0a0a0a" stroke="#0a0a0a" stroke-width="0.9" text-anchor="middle" style="font-size:66px;" >150</text>
<text x="3488.25" y="1216.4" fill="#0a0a0a" stroke="#0a0a0a" stroke-width="0.9" text-anchor="middle" style="font-size:66px;" >175</text>
<text x="3655.5" y="1216.4" fill="#0a0a0a" stroke="#0a0a0a" stroke-width="0.9" text-anchor="middle" style="font-size:66px;" >200</text>
<text x="3822.75" y="1216.4" fill="#0a0a0a" stroke="#0a0a0a" stroke-width="0.9" text-anchor="middle" style="font-size:66px;" >225</text>
<text x="3074" y="1287.5" fill="#0a0a0a" stroke="#0a0a0a" stroke-width="0.9" text-anchor="middle" style="font-size:66px;" >pore diameter/nm</text>
<text x="3074" y="1380.7" fill="#0a0a0a" stroke="#0a0a0a" stroke-width="0.9" text-anchor="middle" style="font-size:66px;" >(b)</text>
<text x="2320" y="637" fill="#0a0a0a" stroke="#0a0a0a" stroke-width="0.9" text-anchor="start" style="font-size:62px;" >×</text>
<text x="2359" y="639" fill="#0a0a0a" stroke="#0a0a0a" stroke-width="0.9" text-anchor="start" style="font-size:66px;" >1</text>
<text x="2388" y="639" fill="#0a0a0a" stroke="#0a0a0a" stroke-width="0.9" text-anchor="start" style="font-size:66px;" >0</text>
<text x="2422" y="617" fill="#0a0a0a" stroke="#0a0a0a" stroke-width="0.9" text-anchor="start" style="font-size:40px;" >5</text>
<g transform="translate(2157,305) rotate(-90)"><text x="0" y="0" text-anchor="middle" fill="#0a0a0a" stroke="#0a0a0a" stroke-width="0.9" style="font-size:66px"><tspan style="font-style:italic">ε</tspan><tspan dy="13" style="font-size:40px">max</tspan><tspan dy="-13">/keV</tspan></text></g>
<g transform="translate(2230,885.5) rotate(-90)"><text x="0" y="0" text-anchor="middle" fill="#0a0a0a" stroke="#0a0a0a" stroke-width="0.9" style="font-size:67.5px">yield/a.u.</text></g>
<mask id="mTopR" maskUnits="userSpaceOnUse" x="0" y="0" width="4016" height="1401"><rect x="0" y="0" width="4016" height="1401" fill="#fff"/><circle cx="2452.4" cy="291.6" r="17" fill="#000"/><circle cx="2553.7" cy="232.6" r="17" fill="#000"/><circle cx="2761.5" cy="355.7" r="17" fill="#000"/><circle cx="3149.5" cy="406.7" r="17" fill="#000"/><circle cx="3771.4" cy="422.1" r="17" fill="#000"/></mask>
<mask id="mTopB" maskUnits="userSpaceOnUse" x="0" y="0" width="4016" height="1401"><rect x="0" y="0" width="4016" height="1401" fill="#fff"/><circle cx="2432.3" cy="477.6" r="29" fill="#000"/><circle cx="2534.2" cy="186.9" r="29" fill="#000"/><circle cx="2742" cy="169.8" r="29" fill="#000"/><circle cx="3129" cy="403.5" r="29" fill="#000"/><circle cx="3755.4" cy="232.3" r="29" fill="#000"/></mask>
<path d="M2452.3,292.5 L2460.1,286.2 L2467.9,280.7 L2475.8,276.0 L2483.7,271.9 L2491.6,268.6 L2499.5,265.9 L2507.4,263.8 L2515.3,262.3 L2523.3,261.3 L2531.2,260.8 L2539.2,260.8 L2547.1,261.3 L2555.1,262.1 L2563.0,263.3 L2571.0,264.9 L2578.9,266.7 L2586.9,268.8 L2594.8,271.1 L2602.8,273.6 L2610.7,276.3 L2618.6,279.2 L2626.6,282.2 L2634.5,285.3 L2642.5,288.4 L2650.4,291.6 L2658.4,294.7 L2666.4,297.9 L2674.3,301.0 L2682.3,304.1 L2690.3,307.1 L2698.3,310.1 L2706.3,313.1 L2714.3,316.0 L2722.3,318.9 L2730.4,321.7 L2738.4,324.5 L2746.4,327.2 L2754.5,329.9 L2762.5,332.5 L2770.6,335.1 L2778.7,337.7 L2786.8,340.1 L2794.9,342.6 L2803.0,344.9 L2811.1,347.3 L2819.3,349.5 L2827.4,351.7 L2835.6,353.9 L2843.7,356.0 L2851.9,358.0 L2860.1,360.0 L2868.3,362.0 L2876.5,363.8 L2884.7,365.7 L2893.0,367.5 L2901.2,369.2 L2909.4,370.9 L2917.7,372.5 L2926.0,374.1 L2934.2,375.7 L2942.5,377.2 L2950.8,378.6 L2959.1,380.0 L2967.4,381.4 L2975.7,382.7 L2984.0,384.0 L2992.4,385.3 L3000.7,386.5 L3009.0,387.6 L3017.4,388.8 L3025.7,389.8 L3034.1,390.9 L3042.5,391.9 L3050.9,392.9 L3059.2,393.8 L3067.6,394.7 L3076.0,395.6 L3084.4,396.4 L3092.8,397.3 L3101.2,398.0 L3109.7,398.8 L3118.1,399.5 L3126.5,400.2 L3134.9,400.8 L3143.4,401.5 L3151.8,402.1 L3160.3,402.7 L3168.7,403.2 L3177.2,403.7 L3185.6,404.2 L3194.1,404.7 L3202.6,405.2 L3211.0,405.6 L3219.5,406.0 L3228.0,406.4 L3236.4,406.8 L3244.9,407.2 L3253.4,407.5 L3261.9,407.8 L3270.4,408.1 L3278.9,408.4 L3287.4,408.7 L3295.8,408.9 L3304.3,409.2 L3312.8,409.4 L3321.3,409.6 L3329.8,409.9 L3338.3,410.0 L3346.8,410.2 L3355.3,410.4 L3363.8,410.6 L3372.3,410.8 L3380.8,410.9 L3389.3,411.1 L3397.8,411.2 L3406.3,411.3 L3414.8,411.5 L3423.3,411.6 L3431.8,411.7 L3440.3,411.9 L3448.8,412.0 L3457.3,412.1 L3465.8,412.3 L3474.3,412.4 L3482.8,412.5 L3491.3,412.6 L3499.8,412.8 L3508.2,412.9 L3516.7,413.1 L3525.2,413.2 L3533.7,413.4 L3542.1,413.5 L3550.6,413.7 L3559.1,413.9 L3567.5,414.1 L3576.0,414.3 L3584.4,414.5 L3592.9,414.7 L3601.3,415.0 L3609.8,415.2 L3618.2,415.5 L3626.6,415.8 L3635.1,416.0 L3643.5,416.4 L3651.9,416.7 L3660.3,417.0 L3668.7,417.4 L3677.1,417.8 L3685.5,418.2 L3693.9,418.6 L3702.3,419.0 L3710.7,419.5 L3719.0,420.0 L3727.4,420.5 L3735.8,421.0 L3744.1,421.6 L3752.4,422.2 L3760.8,422.8 L3769.1,423.4" fill="none" stroke="#e8141c" stroke-width="6.8" stroke-linecap="round" stroke-linejoin="round" mask="url(#mTopR)"/>
<path d="M2431.9,478.1 L2435.5,467.3 L2439.0,456.6 L2442.3,446.0 L2445.6,435.6 L2448.8,425.2 L2451.8,415.0 L2454.8,404.8 L2457.8,394.8 L2460.7,384.8 L2463.7,374.8 L2466.5,364.9 L2469.5,355.0 L2472.4,345.2 L2475.3,335.4 L2478.3,325.5 L2481.4,315.7 L2484.5,305.8 L2487.8,296.0 L2491.1,286.1 L2494.5,276.1 L2498.1,266.1 L2501.8,256.0 L2505.7,245.8 L2509.7,235.6 L2514.0,225.2 L2518.4,214.8 L2523.1,204.2 L2528.0,193.8 L2533.1,183.5 L2538.6,173.4 L2544.4,163.8 L2550.5,154.6 L2557.0,146.0 L2563.8,138.1 L2571.1,131.0 L2578.8,124.8 L2587.0,119.6 L2595.6,115.5 L2604.5,112.4 L2613.8,110.4 L2623.3,109.4 L2632.9,109.4 L2642.6,110.5 L2652.4,112.6 L2662.1,115.8 L2671.7,119.9 L2681.2,124.8 L2690.7,130.5 L2700.0,136.6 L2709.1,143.0 L2718.1,149.7 L2727.0,156.4 L2735.7,163.1 L2744.3,169.9 L2752.7,176.6 L2761.1,183.4 L2769.3,190.2 L2777.5,196.9 L2785.6,203.7 L2793.7,210.4 L2801.7,217.2 L2809.8,223.9 L2817.8,230.6 L2825.8,237.2 L2833.9,243.9 L2842.0,250.5 L2850.1,257.0 L2858.3,263.5 L2866.7,269.9 L2875.1,276.3 L2883.6,282.7 L2892.2,288.9 L2901.0,295.1 L2909.8,301.2 L2918.8,307.2 L2927.8,313.1 L2937.0,319.0 L2946.2,324.7 L2955.6,330.3 L2965.0,335.8 L2974.5,341.1 L2984.0,346.3 L2993.7,351.4 L3003.4,356.3 L3013.2,361.1 L3023.0,365.7 L3032.9,370.2 L3042.9,374.5 L3052.9,378.6 L3063.0,382.5 L3073.1,386.2 L3083.2,389.8 L3093.4,393.1 L3103.6,396.2 L3113.9,399.1 L3124.2,401.8 L3134.5,404.2 L3144.8,406.4 L3155.1,408.4 L3165.5,410.1 L3175.9,411.6 L3186.2,412.8 L3196.6,413.7 L3207.0,414.3 L3217.3,414.7 L3227.7,414.8 L3238.1,414.6 L3248.4,414.2 L3258.7,413.5 L3269.1,412.5 L3279.4,411.3 L3289.7,409.9 L3300.0,408.2 L3310.3,406.3 L3320.6,404.3 L3330.9,402.0 L3341.1,399.5 L3351.4,396.9 L3361.6,394.0 L3371.9,391.1 L3382.1,387.9 L3392.3,384.6 L3402.5,381.2 L3412.7,377.6 L3422.8,373.9 L3433.0,370.1 L3443.1,366.2 L3453.3,362.2 L3463.4,358.1 L3473.5,353.9 L3483.5,349.7 L3493.6,345.4 L3503.6,341.0 L3513.7,336.6 L3523.7,332.1 L3533.7,327.6 L3543.7,323.1 L3553.6,318.5 L3563.6,314.0 L3573.5,309.5 L3583.4,304.9 L3593.3,300.4 L3603.1,295.9 L3613.0,291.5 L3622.8,287.1 L3632.6,282.7 L3642.4,278.4 L3652.1,274.2 L3661.9,270.0 L3671.6,266.0 L3681.3,262.0 L3690.9,258.1 L3700.6,254.4 L3710.2,250.7 L3719.8,247.2 L3729.4,243.8 L3738.9,240.6 L3748.4,237.5 L3757.9,234.6" fill="none" stroke="#0c0c0c" stroke-width="7" stroke-linecap="round" stroke-linejoin="round" mask="url(#mTopB)"/>
<line x1="2424.4" y1="291.6" x2="2479" y2="291.6" stroke="#e8141c" stroke-width="5"/>
<line x1="2424.4" y1="279.6" x2="2424.4" y2="303.6" stroke="#e8141c" stroke-width="5.5"/>
<line x1="2479" y1="279.6" x2="2479" y2="303.6" stroke="#e8141c" stroke-width="5.5"/>
<line x1="2452.4" y1="250.5" x2="2452.4" y2="336" stroke="#e8141c" stroke-width="5"/>
<line x1="2440.4" y1="250.5" x2="2464.4" y2="250.5" stroke="#e8141c" stroke-width="5"/>
<line x1="2440.4" y1="336" x2="2464.4" y2="336" stroke="#e8141c" stroke-width="5"/>
<line x1="2498.2" y1="232.6" x2="2608" y2="232.6" stroke="#e8141c" stroke-width="5"/>
<line x1="2498.2" y1="220.6" x2="2498.2" y2="244.6" stroke="#e8141c" stroke-width="5.5"/>
<line x1="2608" y1="220.6" x2="2608" y2="244.6" stroke="#e8141c" stroke-width="5.5"/>
<line x1="2553.7" y1="177" x2="2553.7" y2="285.2" stroke="#e8141c" stroke-width="5"/>
<line x1="2541.7" y1="177" x2="2565.7" y2="177" stroke="#e8141c" stroke-width="5"/>
<line x1="2541.7" y1="285.2" x2="2565.7" y2="285.2" stroke="#e8141c" stroke-width="5"/>
<line x1="2719.6" y1="355.7" x2="2802.8" y2="355.7" stroke="#e8141c" stroke-width="5"/>
<line x1="2719.6" y1="343.7" x2="2719.6" y2="367.7" stroke="#e8141c" stroke-width="5.5"/>
<line x1="2802.8" y1="343.7" x2="2802.8" y2="367.7" stroke="#e8141c" stroke-width="5.5"/>
<line x1="2761.5" y1="324" x2="2761.5" y2="388.5" stroke="#e8141c" stroke-width="5"/>
<line x1="2749.5" y1="324" x2="2773.5" y2="324" stroke="#e8141c" stroke-width="5"/>
<line x1="2749.5" y1="388.5" x2="2773.5" y2="388.5" stroke="#e8141c" stroke-width="5"/>
<line x1="3080.9" y1="406.7" x2="3216" y2="406.7" stroke="#e8141c" stroke-width="5"/>
<line x1="3080.9" y1="394.7" x2="3080.9" y2="418.7" stroke="#e8141c" stroke-width="5.5"/>
<line x1="3216" y1="394.7" x2="3216" y2="418.7" stroke="#e8141c" stroke-width="5.5"/>
<line x1="3149.5" y1="382.4" x2="3149.5" y2="432.4" stroke="#e8141c" stroke-width="5"/>
<line x1="3137.5" y1="382.4" x2="3161.5" y2="382.4" stroke="#e8141c" stroke-width="5"/>
<line x1="3137.5" y1="432.4" x2="3161.5" y2="432.4" stroke="#e8141c" stroke-width="5"/>
<line x1="3725.2" y1="422.1" x2="3819" y2="422.1" stroke="#e8141c" stroke-width="5"/>
<line x1="3725.2" y1="410.1" x2="3725.2" y2="434.1" stroke="#e8141c" stroke-width="5.5"/>
<line x1="3819" y1="410.1" x2="3819" y2="434.1" stroke="#e8141c" stroke-width="5.5"/>
<line x1="3771.4" y1="399.6" x2="3771.4" y2="443" stroke="#e8141c" stroke-width="5"/>
<line x1="3759.4" y1="399.6" x2="3783.4" y2="399.6" stroke="#e8141c" stroke-width="5"/>
<line x1="3759.4" y1="443" x2="3783.4" y2="443" stroke="#e8141c" stroke-width="5"/>
<line x1="2406.6" y1="477.6" x2="2460.4" y2="477.6" stroke="#4a4e58" stroke-width="2"/>
<line x1="2406.6" y1="465.6" x2="2406.6" y2="489.6" stroke="#4a4e58" stroke-width="2.5"/>
<line x1="2460.4" y1="465.6" x2="2460.4" y2="489.6" stroke="#4a4e58" stroke-width="2.5"/>
<line x1="2479.5" y1="186.9" x2="2586.5" y2="186.9" stroke="#4a4e58" stroke-width="2"/>
<line x1="2479.5" y1="174.9" x2="2479.5" y2="198.9" stroke="#4a4e58" stroke-width="2.5"/>
<line x1="2586.5" y1="174.9" x2="2586.5" y2="198.9" stroke="#4a4e58" stroke-width="2.5"/>
<line x1="2534.2" y1="126.3" x2="2534.2" y2="247.2" stroke="#0c0c0c" stroke-width="5.4"/>
<line x1="2522.2" y1="126.3" x2="2546.2" y2="126.3" stroke="#0c0c0c" stroke-width="5.4"/>
<line x1="2522.2" y1="247.2" x2="2546.2" y2="247.2" stroke="#0c0c0c" stroke-width="5.4"/>
<line x1="2700" y1="169.8" x2="2782.7" y2="169.8" stroke="#4a4e58" stroke-width="2"/>
<line x1="2700" y1="157.8" x2="2700" y2="181.8" stroke="#4a4e58" stroke-width="2.5"/>
<line x1="2782.7" y1="157.8" x2="2782.7" y2="181.8" stroke="#4a4e58" stroke-width="2.5"/>
<line x1="2742" y1="105.8" x2="2742" y2="233.8" stroke="#0c0c0c" stroke-width="5.4"/>
<line x1="2730.0" y1="105.8" x2="2754.0" y2="105.8" stroke="#0c0c0c" stroke-width="5.4"/>
<line x1="2730.0" y1="233.8" x2="2754.0" y2="233.8" stroke="#0c0c0c" stroke-width="5.4"/>
<line x1="3062" y1="403.5" x2="3195" y2="403.5" stroke="#4a4e58" stroke-width="2"/>
<line x1="3062" y1="391.5" x2="3062" y2="415.5" stroke="#4a4e58" stroke-width="2.5"/>
<line x1="3195" y1="391.5" x2="3195" y2="415.5" stroke="#4a4e58" stroke-width="2.5"/>
<line x1="3129" y1="382.4" x2="3129" y2="423.6" stroke="#0c0c0c" stroke-width="5.4"/>
<line x1="3117.0" y1="382.4" x2="3141.0" y2="382.4" stroke="#0c0c0c" stroke-width="5.4"/>
<line x1="3117.0" y1="423.6" x2="3141.0" y2="423.6" stroke="#0c0c0c" stroke-width="5.4"/>
<line x1="3704.6" y1="232.3" x2="3799.1" y2="232.3" stroke="#4a4e58" stroke-width="2"/>
<line x1="3704.6" y1="220.3" x2="3704.6" y2="244.3" stroke="#4a4e58" stroke-width="2.5"/>
<line x1="3799.1" y1="220.3" x2="3799.1" y2="244.3" stroke="#4a4e58" stroke-width="2.5"/>
<line x1="3755.4" y1="178.9" x2="3755.4" y2="284" stroke="#0c0c0c" stroke-width="5.4"/>
<line x1="3743.4" y1="178.9" x2="3767.4" y2="178.9" stroke="#0c0c0c" stroke-width="5.4"/>
<line x1="3743.4" y1="284" x2="3767.4" y2="284" stroke="#0c0c0c" stroke-width="5.4"/>
<circle cx="2452.4" cy="291.6" r="11.8" fill="#fff" stroke="#e8141c" stroke-width="7.8"/>
<circle cx="2553.7" cy="232.6" r="11.8" fill="#fff" stroke="#e8141c" stroke-width="7.8"/>
<circle cx="2761.5" cy="355.7" r="11.8" fill="#fff" stroke="#e8141c" stroke-width="7.8"/>
<circle cx="3149.5" cy="406.7" r="11.8" fill="#fff" stroke="#e8141c" stroke-width="7.8"/>
<circle cx="3771.4" cy="422.1" r="11.8" fill="#fff" stroke="#e8141c" stroke-width="7.8"/>
<polygon points="2432.3,460.6 2449.8,477.6 2432.3,494.6 2414.8,477.6" fill="#fff" stroke="#0c0c0c" stroke-width="7.2" stroke-linejoin="round"/>
<polygon points="2534.2,169.9 2551.7,186.9 2534.2,203.9 2516.7,186.9" fill="#fff" stroke="#0c0c0c" stroke-width="7.2" stroke-linejoin="round"/>
<polygon points="2742,152.8 2759.5,169.8 2742,186.8 2724.5,169.8" fill="#fff" stroke="#0c0c0c" stroke-width="7.2" stroke-linejoin="round"/>
<polygon points="3129,386.5 3146.5,403.5 3129,420.5 3111.5,403.5" fill="#fff" stroke="#0c0c0c" stroke-width="7.2" stroke-linejoin="round"/>
<polygon points="3755.4,215.3 3772.9,232.3 3755.4,249.3 3737.9,232.3" fill="#fff" stroke="#0c0c0c" stroke-width="7.2" stroke-linejoin="round"/>
<mask id="mBotR" maskUnits="userSpaceOnUse" x="0" y="0" width="4016" height="1401"><rect x="0" y="0" width="4016" height="1401" fill="#fff"/><circle cx="2450" cy="944.5" r="17" fill="#000"/><circle cx="2551.3" cy="1049" r="17" fill="#000"/><circle cx="2758.9" cy="1051.2" r="17" fill="#000"/><circle cx="3145.6" cy="1078" r="17" fill="#000"/><circle cx="3767.7" cy="1062.6" r="17" fill="#000"/></mask>
<mask id="mBotB" maskUnits="userSpaceOnUse" x="0" y="0" width="4016" height="1401"><rect x="0" y="0" width="4016" height="1401" fill="#fff"/><circle cx="2430.7" cy="969" r="29" fill="#000"/><circle cx="2532" cy="780" r="29" fill="#000"/><circle cx="2739" cy="776.2" r="29" fill="#000"/><circle cx="3127.6" cy="911.3" r="29" fill="#000"/><circle cx="3749.7" cy="737.1" r="29" fill="#000"/></mask>
<path d="M2450.1,943.1 L2455.6,950.9 L2461.4,958.2 L2467.3,965.2 L2473.3,971.8 L2479.6,978.1 L2485.9,984.0 L2492.4,989.5 L2499.1,994.7 L2505.9,999.7 L2512.8,1004.3 L2519.8,1008.6 L2527.0,1012.6 L2534.2,1016.4 L2541.6,1019.9 L2549.1,1023.1 L2556.7,1026.1 L2564.4,1028.9 L2572.2,1031.5 L2580.0,1033.8 L2587.9,1036.0 L2596.0,1038.0 L2604.0,1039.8 L2612.2,1041.4 L2620.4,1042.9 L2628.7,1044.3 L2637.0,1045.5 L2645.3,1046.7 L2653.7,1047.7 L2662.2,1048.6 L2670.6,1049.4 L2679.1,1050.2 L2687.6,1050.9 L2696.1,1051.5 L2704.7,1052.2 L2713.2,1052.7 L2721.8,1053.3 L2730.3,1053.9 L2738.9,1054.4 L2747.4,1055.0 L2755.9,1055.5 L2764.5,1056.0 L2773.0,1056.5 L2781.6,1057.0 L2790.1,1057.5 L2798.6,1058.0 L2807.2,1058.4 L2815.7,1058.9 L2824.2,1059.3 L2832.7,1059.8 L2841.3,1060.2 L2849.8,1060.6 L2858.3,1061.0 L2866.9,1061.4 L2875.4,1061.8 L2883.9,1062.2 L2892.4,1062.5 L2901.0,1062.9 L2909.5,1063.2 L2918.0,1063.5 L2926.5,1063.9 L2935.0,1064.2 L2943.5,1064.5 L2952.1,1064.8 L2960.6,1065.1 L2969.1,1065.3 L2977.6,1065.6 L2986.1,1065.9 L2994.6,1066.1 L3003.2,1066.4 L3011.7,1066.6 L3020.2,1066.8 L3028.7,1067.0 L3037.2,1067.2 L3045.7,1067.4 L3054.2,1067.6 L3062.7,1067.8 L3071.2,1068.0 L3079.7,1068.1 L3088.2,1068.3 L3096.7,1068.5 L3105.2,1068.6 L3113.7,1068.7 L3122.3,1068.9 L3130.8,1069.0 L3139.3,1069.1 L3147.8,1069.2 L3156.3,1069.3 L3164.8,1069.4 L3173.3,1069.4 L3181.8,1069.5 L3190.3,1069.6 L3198.8,1069.6 L3207.3,1069.7 L3215.8,1069.7 L3224.3,1069.8 L3232.8,1069.8 L3241.2,1069.8 L3249.7,1069.9 L3258.2,1069.9 L3266.7,1069.9 L3275.2,1069.9 L3283.7,1069.9 L3292.2,1069.9 L3300.7,1069.8 L3309.2,1069.8 L3317.7,1069.8 L3326.2,1069.7 L3334.7,1069.7 L3343.2,1069.6 L3351.7,1069.6 L3360.2,1069.5 L3368.7,1069.5 L3377.2,1069.4 L3385.7,1069.3 L3394.1,1069.2 L3402.6,1069.1 L3411.1,1069.0 L3419.6,1068.9 L3428.1,1068.8 L3436.6,1068.7 L3445.1,1068.6 L3453.6,1068.5 L3462.1,1068.4 L3470.6,1068.3 L3479.1,1068.1 L3487.6,1068.0 L3496.1,1067.8 L3504.6,1067.7 L3513.0,1067.6 L3521.5,1067.4 L3530.0,1067.2 L3538.5,1067.1 L3547.0,1066.9 L3555.5,1066.7 L3564.0,1066.6 L3572.5,1066.4 L3581.0,1066.2 L3589.5,1066.0 L3598.0,1065.8 L3606.5,1065.6 L3615.0,1065.5 L3623.5,1065.3 L3632.0,1065.1 L3640.5,1064.8 L3649.0,1064.6 L3657.4,1064.4 L3665.9,1064.2 L3674.4,1064.0 L3682.9,1063.8 L3691.4,1063.6 L3699.9,1063.3 L3708.4,1063.1 L3716.9,1062.9 L3725.4,1062.7 L3733.9,1062.4 L3742.4,1062.2 L3750.9,1061.9 L3759.4,1061.7 L3767.9,1061.5" fill="none" stroke="#e8141c" stroke-width="6.8" stroke-linecap="round" stroke-linejoin="round" mask="url(#mBotR)"/>
<path d="M2430.8,967.4 L2435.3,960.3 L2439.5,952.9 L2443.6,945.1 L2447.6,937.1 L2451.6,928.7 L2455.4,920.2 L2459.2,911.4 L2463.0,902.5 L2466.8,893.5 L2470.6,884.4 L2474.5,875.2 L2478.5,865.9 L2482.6,856.7 L2486.9,847.5 L2491.3,838.4 L2495.8,829.4 L2500.6,820.5 L2505.7,811.8 L2511.0,803.3 L2516.6,795.0 L2522.5,787.1 L2528.6,779.4 L2535.1,772.2 L2541.8,765.3 L2548.8,759.0 L2556.0,753.2 L2563.4,748.0 L2571.1,743.5 L2579.0,739.6 L2587.1,736.6 L2595.4,734.3 L2603.8,732.7 L2612.4,731.9 L2621.2,731.8 L2630.0,732.4 L2638.9,733.5 L2648.0,735.2 L2657.0,737.4 L2666.1,740.0 L2675.2,743.1 L2684.3,746.5 L2693.3,750.2 L2702.3,754.3 L2711.2,758.5 L2720.0,762.9 L2728.7,767.5 L2737.3,772.2 L2745.8,777.1 L2754.2,782.0 L2762.6,786.9 L2771.0,791.9 L2779.3,797.0 L2787.5,802.0 L2795.8,807.0 L2804.1,812.0 L2812.4,816.9 L2820.7,821.8 L2829.1,826.5 L2837.5,831.2 L2846.0,835.7 L2854.5,840.0 L2863.2,844.3 L2871.8,848.4 L2880.5,852.3 L2889.3,856.2 L2898.1,859.9 L2907.0,863.5 L2915.9,867.0 L2924.9,870.3 L2933.9,873.5 L2942.9,876.6 L2952.0,879.5 L2961.1,882.3 L2970.3,885.0 L2979.5,887.6 L2988.7,890.0 L2998.0,892.3 L3007.3,894.5 L3016.6,896.6 L3026.0,898.5 L3035.3,900.3 L3044.7,902.0 L3054.2,903.5 L3063.6,904.9 L3073.0,906.2 L3082.5,907.4 L3092.0,908.4 L3101.5,909.3 L3111.0,910.1 L3120.5,910.8 L3130.0,911.3 L3139.6,911.7 L3149.1,912.0 L3158.6,912.1 L3168.2,912.2 L3177.7,912.1 L3187.2,911.9 L3196.7,911.5 L3206.2,911.0 L3215.7,910.4 L3225.2,909.7 L3234.7,908.9 L3244.2,907.9 L3253.6,906.8 L3263.1,905.6 L3272.5,904.3 L3281.9,902.8 L3291.3,901.3 L3300.7,899.6 L3310.0,897.9 L3319.4,896.0 L3328.7,894.0 L3338.1,892.0 L3347.4,889.8 L3356.7,887.6 L3365.9,885.2 L3375.2,882.8 L3384.4,880.3 L3393.7,877.7 L3402.9,875.0 L3412.1,872.3 L3421.3,869.5 L3430.4,866.6 L3439.6,863.6 L3448.7,860.6 L3457.9,857.5 L3467.0,854.4 L3476.1,851.2 L3485.1,847.9 L3494.2,844.6 L3503.2,841.2 L3512.3,837.8 L3521.3,834.4 L3530.3,830.9 L3539.3,827.4 L3548.2,823.8 L3557.2,820.2 L3566.1,816.6 L3575.0,813.0 L3583.9,809.3 L3592.8,805.6 L3601.7,801.9 L3610.5,798.1 L3619.3,794.4 L3628.2,790.6 L3637.0,786.8 L3645.7,783.1 L3654.5,779.3 L3663.3,775.5 L3672.0,771.7 L3680.7,768.0 L3689.4,764.2 L3698.1,760.4 L3706.8,756.7 L3715.4,753.0 L3724.0,749.3 L3732.6,745.6 L3741.2,741.9 L3749.8,738.3" fill="none" stroke="#0c0c0c" stroke-width="7" stroke-linecap="round" stroke-linejoin="round" mask="url(#mBotB)"/>
<line x1="2424" y1="944.5" x2="2480" y2="944.5" stroke="#e8141c" stroke-width="5"/>
<line x1="2424" y1="932.5" x2="2424" y2="956.5" stroke="#e8141c" stroke-width="5.5"/>
<line x1="2480" y1="932.5" x2="2480" y2="956.5" stroke="#e8141c" stroke-width="5.5"/>
<line x1="2450" y1="916.8" x2="2450" y2="972" stroke="#e8141c" stroke-width="5"/>
<line x1="2438.0" y1="916.8" x2="2462.0" y2="916.8" stroke="#e8141c" stroke-width="5"/>
<line x1="2438.0" y1="972" x2="2462.0" y2="972" stroke="#e8141c" stroke-width="5"/>
<line x1="2496.5" y1="1049" x2="2606.8" y2="1049" stroke="#e8141c" stroke-width="5"/>
<line x1="2496.5" y1="1037.0" x2="2496.5" y2="1061.0" stroke="#e8141c" stroke-width="5.5"/>
<line x1="2606.8" y1="1037.0" x2="2606.8" y2="1061.0" stroke="#e8141c" stroke-width="5.5"/>
<line x1="2551.3" y1="1032" x2="2551.3" y2="1068" stroke="#e8141c" stroke-width="5"/>
<line x1="2539.3" y1="1032" x2="2563.3" y2="1032" stroke="#e8141c" stroke-width="5"/>
<line x1="2539.3" y1="1068" x2="2563.3" y2="1068" stroke="#e8141c" stroke-width="5"/>
<line x1="2718" y1="1051.2" x2="2799" y2="1051.2" stroke="#e8141c" stroke-width="5"/>
<line x1="2718" y1="1039.2" x2="2718" y2="1063.2" stroke="#e8141c" stroke-width="5.5"/>
<line x1="2799" y1="1039.2" x2="2799" y2="1063.2" stroke="#e8141c" stroke-width="5.5"/>
<line x1="2758.9" y1="1034" x2="2758.9" y2="1069" stroke="#e8141c" stroke-width="5"/>
<line x1="2746.9" y1="1034" x2="2770.9" y2="1034" stroke="#e8141c" stroke-width="5"/>
<line x1="2746.9" y1="1069" x2="2770.9" y2="1069" stroke="#e8141c" stroke-width="5"/>
<line x1="3079.6" y1="1078" x2="3215.3" y2="1078" stroke="#e8141c" stroke-width="5"/>
<line x1="3079.6" y1="1066.0" x2="3079.6" y2="1090.0" stroke="#e8141c" stroke-width="5.5"/>
<line x1="3215.3" y1="1066.0" x2="3215.3" y2="1090.0" stroke="#e8141c" stroke-width="5.5"/>
<line x1="3145.6" y1="1064" x2="3145.6" y2="1093" stroke="#e8141c" stroke-width="5"/>
<line x1="3133.6" y1="1064" x2="3157.6" y2="1064" stroke="#e8141c" stroke-width="5"/>
<line x1="3133.6" y1="1093" x2="3157.6" y2="1093" stroke="#e8141c" stroke-width="5"/>
<line x1="3723.3" y1="1062.6" x2="3817.6" y2="1062.6" stroke="#e8141c" stroke-width="5"/>
<line x1="3723.3" y1="1050.6" x2="3723.3" y2="1074.6" stroke="#e8141c" stroke-width="5.5"/>
<line x1="3817.6" y1="1050.6" x2="3817.6" y2="1074.6" stroke="#e8141c" stroke-width="5.5"/>
<line x1="3767.7" y1="1047" x2="3767.7" y2="1078" stroke="#e8141c" stroke-width="5"/>
<line x1="3755.7" y1="1047" x2="3779.7" y2="1047" stroke="#e8141c" stroke-width="5"/>
<line x1="3755.7" y1="1078" x2="3779.7" y2="1078" stroke="#e8141c" stroke-width="5"/>
<line x1="2414.5" y1="969" x2="2459.7" y2="969" stroke="#4a4e58" stroke-width="2"/>
<line x1="2414.5" y1="957.0" x2="2414.5" y2="981.0" stroke="#4a4e58" stroke-width="2.5"/>
<line x1="2459.7" y1="957.0" x2="2459.7" y2="981.0" stroke="#4a4e58" stroke-width="2.5"/>
<line x1="2430.7" y1="931.6" x2="2430.7" y2="1004.5" stroke="#0c0c0c" stroke-width="5.4"/>
<line x1="2418.7" y1="931.6" x2="2442.7" y2="931.6" stroke="#0c0c0c" stroke-width="5.4"/>
<line x1="2418.7" y1="1004.5" x2="2442.7" y2="1004.5" stroke="#0c0c0c" stroke-width="5.4"/>
<line x1="2477.8" y1="780" x2="2586.2" y2="780" stroke="#4a4e58" stroke-width="2"/>
<line x1="2477.8" y1="768.0" x2="2477.8" y2="792.0" stroke="#4a4e58" stroke-width="2.5"/>
<line x1="2586.2" y1="768.0" x2="2586.2" y2="792.0" stroke="#4a4e58" stroke-width="2.5"/>
<line x1="2532" y1="712.3" x2="2532" y2="843.3" stroke="#0c0c0c" stroke-width="5.4"/>
<line x1="2520.0" y1="712.3" x2="2544.0" y2="712.3" stroke="#0c0c0c" stroke-width="5.4"/>
<line x1="2520.0" y1="843.3" x2="2544.0" y2="843.3" stroke="#0c0c0c" stroke-width="5.4"/>
<line x1="2700" y1="776.2" x2="2779.3" y2="776.2" stroke="#4a4e58" stroke-width="2"/>
<line x1="2700" y1="764.2" x2="2700" y2="788.2" stroke="#4a4e58" stroke-width="2.5"/>
<line x1="2779.3" y1="764.2" x2="2779.3" y2="788.2" stroke="#4a4e58" stroke-width="2.5"/>
<line x1="2739" y1="711.3" x2="2739" y2="841" stroke="#0c0c0c" stroke-width="5.4"/>
<line x1="2727.0" y1="711.3" x2="2751.0" y2="711.3" stroke="#0c0c0c" stroke-width="5.4"/>
<line x1="2727.0" y1="841" x2="2751.0" y2="841" stroke="#0c0c0c" stroke-width="5.4"/>
<line x1="3060.4" y1="911.3" x2="3195.5" y2="911.3" stroke="#4a4e58" stroke-width="2"/>
<line x1="3060.4" y1="899.3" x2="3060.4" y2="923.3" stroke="#4a4e58" stroke-width="2.5"/>
<line x1="3195.5" y1="899.3" x2="3195.5" y2="923.3" stroke="#4a4e58" stroke-width="2.5"/>
<line x1="3127.6" y1="865" x2="3127.6" y2="957.5" stroke="#0c0c0c" stroke-width="5.4"/>
<line x1="3115.6" y1="865" x2="3139.6" y2="865" stroke="#0c0c0c" stroke-width="5.4"/>
<line x1="3115.6" y1="957.5" x2="3139.6" y2="957.5" stroke="#0c0c0c" stroke-width="5.4"/>
<line x1="3703.5" y1="737.1" x2="3797.7" y2="737.1" stroke="#4a4e58" stroke-width="2"/>
<line x1="3703.5" y1="725.1" x2="3703.5" y2="749.1" stroke="#4a4e58" stroke-width="2.5"/>
<line x1="3797.7" y1="725.1" x2="3797.7" y2="749.1" stroke="#4a4e58" stroke-width="2.5"/>
<line x1="3749.7" y1="665" x2="3749.7" y2="809.2" stroke="#0c0c0c" stroke-width="5.4"/>
<line x1="3737.7" y1="665" x2="3761.7" y2="665" stroke="#0c0c0c" stroke-width="5.4"/>
<line x1="3737.7" y1="809.2" x2="3761.7" y2="809.2" stroke="#0c0c0c" stroke-width="5.4"/>
<circle cx="2450" cy="944.5" r="11.8" fill="#fff" stroke="#e8141c" stroke-width="7.8"/>
<circle cx="2551.3" cy="1049" r="11.8" fill="#fff" stroke="#e8141c" stroke-width="7.8"/>
<circle cx="2758.9" cy="1051.2" r="11.8" fill="#fff" stroke="#e8141c" stroke-width="7.8"/>
<circle cx="3145.6" cy="1078" r="11.8" fill="#fff" stroke="#e8141c" stroke-width="7.8"/>
<circle cx="3767.7" cy="1062.6" r="11.8" fill="#fff" stroke="#e8141c" stroke-width="7.8"/>
<polygon points="2430.7,952 2448.2,969 2430.7,986 2413.2,969" fill="#fff" stroke="#0c0c0c" stroke-width="7.2" stroke-linejoin="round"/>
<polygon points="2532,763 2549.5,780 2532,797 2514.5,780" fill="#fff" stroke="#0c0c0c" stroke-width="7.2" stroke-linejoin="round"/>
<polygon points="2739,759.2 2756.5,776.2 2739,793.2 2721.5,776.2" fill="#fff" stroke="#0c0c0c" stroke-width="7.2" stroke-linejoin="round"/>
<polygon points="3127.6,894.3 3145.1,911.3 3127.6,928.3 3110.1,911.3" fill="#fff" stroke="#0c0c0c" stroke-width="7.2" stroke-linejoin="round"/>
<polygon points="3749.7,720.1 3767.2,737.1 3749.7,754.1 3732.2,737.1" fill="#fff" stroke="#0c0c0c" stroke-width="7.2" stroke-linejoin="round"/>
<line x1="3258.7" y1="58.7" x2="3321.7" y2="58.7" stroke="#e8141c" stroke-width="8" stroke-linecap="round"/>
<line x1="3381.6" y1="58.7" x2="3445.6" y2="58.7" stroke="#e8141c" stroke-width="8" stroke-linecap="round"/>
<circle cx="3352.2" cy="58.7" r="12.7" fill="#fff" stroke="#e8141c" stroke-width="7.7"/>
<line x1="3261.4" y1="144.2" x2="3323.9" y2="144.2" stroke="#0c0c0c" stroke-width="8" stroke-linecap="round"/>
<line x1="3384.2" y1="144.2" x2="3446.7" y2="144.2" stroke="#0c0c0c" stroke-width="8" stroke-linecap="round"/>
<polygon points="3354.5,127.1 3372.0,144.6 3354.5,162.1 3337.0,144.6" fill="#fff" stroke="#0c0c0c" stroke-width="7.8" stroke-linejoin="round"/>
<text x="3475" y="73.7" fill="#0a0a0a" stroke="#0a0a0a" stroke-width="0.9" text-anchor="start" style="font-size:66px;" >proton</text>
<text x="3475" y="159.1" fill="#0a0a0a" stroke="#0a0a0a" stroke-width="0.9" text-anchor="start" style="font-size:66px;" >carbon</text>
</svg></body></html>
